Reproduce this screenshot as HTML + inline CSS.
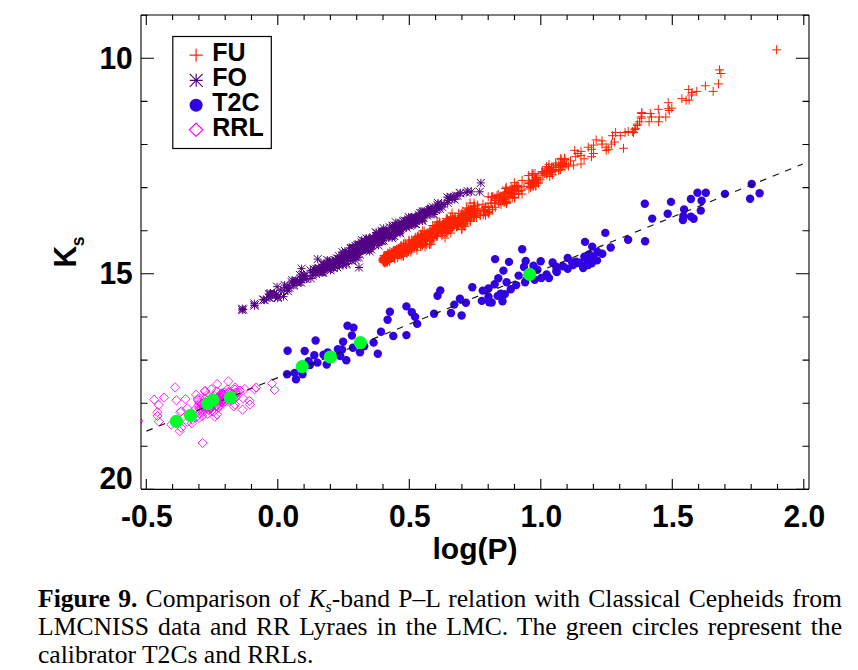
<!DOCTYPE html>
<html><head><meta charset="utf-8"><title>Figure 9</title>
<style>
html,body{margin:0;padding:0;background:#fff;}
body{width:858px;height:670px;position:relative;overflow:hidden;}
.cap{position:absolute;left:38px;top:585px;width:804px;font-family:"Liberation Serif","Times New Roman",serif;font-size:25.6px;line-height:28.2px;text-align:justify;color:#000;}
.cap b{font-weight:bold;}
</style></head><body>
<svg width="858" height="670" viewBox="0 0 858 670" style="position:absolute;left:0;top:0"><defs><clipPath id="pc"><rect x="141" y="15" width="668" height="474"/></clipPath></defs><g clip-path="url(#pc)"><path fill="none" stroke="#ff2200" stroke-width="1" d="M772.1 49.8H781.1M776.6 45.3V54.3M715.0 69.9H724.0M719.5 65.4V74.4M716.4 73.5H725.4M720.9 69.0V78.0M714.0 83.9H723.0M718.5 79.4V88.4M708.7 91.4H717.7M713.2 86.9V95.9M700.9 85.8H709.9M705.4 81.3V90.3M692.3 91.4H701.3M696.8 86.9V95.9M687.6 92.6H696.6M692.1 88.1V97.1M684.2 89.6H693.2M688.7 85.1V94.1M687.0 95.0H696.0M691.5 90.5V99.5M677.4 98.6H686.4M681.9 94.1V103.1M681.6 100.3H690.6M686.1 95.8V104.8M684.6 100.1H693.6M689.1 95.6V104.6M663.7 102.7H672.7M668.2 98.2V107.2M667.3 108.1H676.3M671.8 103.6V112.6M663.7 108.7H672.7M668.2 104.2V113.2M664.9 110.5H673.9M669.4 106.0V115.0M661.3 117.0H670.3M665.8 112.5V121.5M653.8 109.3H662.8M658.3 104.8V113.8M654.7 117.0H663.7M659.2 112.5V121.5M654.1 121.8H663.1M658.6 117.3V126.3M645.8 113.5H654.8M650.3 109.0V118.0M647.0 117.0H656.0M651.5 112.5V121.5M644.6 121.8H653.6M649.1 117.3V126.3M637.2 113.5H646.2M641.7 109.0V118.0M636.8 118.2H645.8M641.3 113.7V122.7M635.0 121.8H644.0M639.5 117.3V126.3M632.7 125.4H641.7M637.2 120.9V129.9M630.3 129.6H639.3M634.8 125.1V134.1M627.9 131.4H636.9M632.4 126.9V135.9M619.0 148.3H628.0M623.5 143.8V152.8M637.3 112.6H646.3M641.8 108.1V117.1M636.8 116.8H645.8M641.3 112.3V121.3M633.1 124.1H642.1M637.6 119.6V128.6M631.1 128.3H640.1M635.6 123.8V132.8M629.0 132.5H638.0M633.5 128.0V137.0M623.7 131.5H632.7M628.2 127.0V136.0M620.6 132.5H629.6M625.1 128.0V137.0M611.1 132.5H620.1M615.6 128.0V137.0M615.8 135.7H624.8M620.3 131.2V140.2M608.0 135.7H617.0M612.5 131.2V140.2M610.1 142.0H619.1M614.6 137.5V146.5M606.9 144.1H615.9M611.4 139.6V148.6M597.5 140.9H606.5M602.0 136.4V145.4M597.5 144.1H606.5M602.0 139.6V148.6M601.7 147.2H610.7M606.2 142.7V151.7M601.7 150.4H610.7M606.2 145.9V154.9M603.8 149.3H612.8M608.3 144.8V153.8M591.7 139.9H600.7M596.2 135.4V144.4M589.1 145.1H598.1M593.6 140.6V149.6M587.0 149.3H596.0M591.5 144.8V153.8M589.1 153.5H598.1M593.6 149.0V158.0M587.0 156.7H596.0M591.5 152.2V161.2M583.8 147.2H592.8M588.3 142.7V151.7M576.5 151.4H585.5M581.0 146.9V155.9M573.3 153.5H582.3M577.8 149.0V158.0M570.2 150.4H579.2M574.7 145.9V154.9M571.2 156.7H580.2M575.7 152.2V161.2M576.5 155.6H585.5M581.0 151.1V160.1M579.6 158.8H588.6M584.1 154.3V163.3M566.0 160.9H575.0M570.5 156.4V165.4M561.8 164.0H570.8M566.3 159.5V168.5M557.6 165.1H566.6M562.1 160.6V169.6M563.9 166.1H572.9M568.4 161.6V170.6M569.1 165.1H578.1M573.6 160.6V169.6M576.5 164.0H585.5M581.0 159.5V168.5M389.2 256.9H398.2M393.7 252.4V261.4M379.9 261.9H388.9M384.4 257.4V266.4M465.8 221.0H474.8M470.3 216.5V225.5M380.4 255.5H389.4M384.9 251.0V260.0M399.2 246.7H408.2M403.7 242.2V251.2M428.6 237.1H437.6M433.1 232.6V241.6M398.9 243.8H407.9M403.4 239.3V248.3M447.0 224.3H456.0M451.5 219.8V228.8M443.7 226.1H452.7M448.2 221.6V230.6M389.7 251.0H398.7M394.2 246.5V255.5M429.9 229.5H438.9M434.4 225.0V234.0M382.9 259.4H391.9M387.4 254.9V263.9M429.2 235.2H438.2M433.7 230.7V239.7M447.7 220.7H456.7M452.2 216.2V225.2M438.7 225.2H447.7M443.2 220.7V229.7M457.9 214.8H466.9M462.4 210.3V219.3M379.3 260.9H388.3M383.8 256.4V265.4M390.9 250.5H399.9M395.4 246.0V255.0M464.0 214.7H473.0M468.5 210.2V219.2M393.9 248.6H402.9M398.4 244.1V253.1M431.8 235.0H440.8M436.3 230.5V239.5M404.7 246.9H413.7M409.2 242.4V251.4M432.4 236.3H441.4M436.9 231.8V240.8M404.4 240.1H413.4M408.9 235.6V244.6M419.7 231.2H428.7M424.2 226.7V235.7M393.5 250.8H402.5M398.0 246.3V255.3M411.8 247.4H420.8M416.3 242.9V251.9M442.1 221.4H451.1M446.6 216.9V225.9M397.7 253.4H406.7M402.2 248.9V257.9M443.2 226.4H452.2M447.7 221.9V230.9M385.2 257.1H394.2M389.7 252.6V261.6M382.0 260.0H391.0M386.5 255.5V264.5M395.2 248.9H404.2M399.7 244.4V253.4M451.0 218.9H460.0M455.5 214.4V223.4M388.9 251.9H397.9M393.4 247.4V256.4M456.9 218.9H465.9M461.4 214.4V223.4M437.5 235.7H446.5M442.0 231.2V240.2M439.3 226.5H448.3M443.8 222.0V231.0M450.2 224.2H459.2M454.7 219.7V228.7M403.8 247.8H412.8M408.3 243.3V252.3M417.7 240.0H426.7M422.2 235.5V244.5M389.2 254.2H398.2M393.7 249.7V258.7M419.4 243.2H428.4M423.9 238.7V247.7M458.3 218.1H467.3M462.8 213.6V222.6M388.7 253.8H397.7M393.2 249.3V258.3M430.5 226.0H439.5M435.0 221.5V230.5M470.1 216.3H479.1M474.6 211.8V220.8M452.2 224.5H461.2M456.7 220.0V229.0M406.0 246.6H415.0M410.5 242.1V251.1M388.7 254.6H397.7M393.2 250.1V259.1M442.6 233.4H451.6M447.1 228.9V237.9M410.6 243.3H419.6M415.1 238.8V247.8M408.3 242.7H417.3M412.8 238.2V247.2M452.3 223.6H461.3M456.8 219.1V228.1M405.3 245.2H414.3M409.8 240.7V249.7M438.7 228.3H447.7M443.2 223.8V232.8M450.8 220.3H459.8M455.3 215.8V224.8M405.3 245.6H414.3M409.8 241.1V250.1M442.9 219.0H451.9M447.4 214.5V223.5M386.2 254.4H395.2M390.7 249.9V258.9M450.2 218.9H459.2M454.7 214.4V223.4M384.6 254.0H393.6M389.1 249.5V258.5M469.1 211.0H478.1M473.6 206.5V215.5M423.3 237.5H432.3M427.8 233.0V242.0M441.8 222.3H450.8M446.3 217.8V226.8M460.4 226.3H469.4M464.9 221.8V230.8M443.9 224.9H452.9M448.4 220.4V229.4M413.3 243.1H422.3M417.8 238.6V247.6M398.9 246.6H407.9M403.4 242.1V251.1M438.5 225.2H447.5M443.0 220.7V229.7M380.7 263.0H389.7M385.2 258.5V267.5M457.4 221.2H466.4M461.9 216.7V225.7M393.4 252.1H402.4M397.9 247.6V256.6M391.9 250.1H400.9M396.4 245.6V254.6M416.2 245.8H425.2M420.7 241.3V250.3M388.1 253.1H397.1M392.6 248.6V257.6M414.3 239.7H423.3M418.8 235.2V244.2M433.1 230.7H442.1M437.6 226.2V235.2M418.5 240.4H427.5M423.0 235.9V244.9M417.4 239.7H426.4M421.9 235.2V244.2M419.4 238.5H428.4M423.9 234.0V243.0M446.3 233.1H455.3M450.8 228.6V237.6M388.4 255.4H397.4M392.9 250.9V259.9M383.9 258.6H392.9M388.4 254.1V263.1M463.6 208.9H472.6M468.1 204.4V213.4M466.9 216.8H475.9M471.4 212.3V221.3M416.5 234.2H425.5M421.0 229.7V238.7M460.5 213.9H469.5M465.0 209.4V218.4M399.0 255.9H408.0M403.5 251.4V260.4M381.2 257.2H390.2M385.7 252.7V261.7M412.5 242.3H421.5M417.0 237.8V246.8M443.0 221.0H452.0M447.5 216.5V225.5M443.0 221.0H452.0M447.5 216.5V225.5M452.9 225.9H461.9M457.4 221.4V230.4M440.2 225.9H449.2M444.7 221.4V230.4M387.5 255.4H396.5M392.0 250.9V259.9M387.4 255.0H396.4M391.9 250.5V259.5M425.5 230.1H434.5M430.0 225.6V234.6M463.0 214.8H472.0M467.5 210.3V219.3M417.3 243.6H426.3M421.8 239.1V248.1M466.4 210.2H475.4M470.9 205.7V214.7M447.7 225.6H456.7M452.2 221.1V230.1M447.5 228.6H456.5M452.0 224.1V233.1M430.4 228.4H439.4M434.9 223.9V232.9M409.5 246.7H418.5M414.0 242.2V251.2M435.5 223.0H444.5M440.0 218.5V227.5M400.7 250.4H409.7M405.2 245.9V254.9M390.5 253.2H399.5M395.0 248.7V257.7M443.9 220.6H452.9M448.4 216.1V225.1M439.4 227.5H448.4M443.9 223.0V232.0M465.6 211.3H474.6M470.1 206.8V215.8M407.3 239.9H416.3M411.8 235.4V244.4M418.1 243.1H427.1M422.6 238.6V247.6M382.2 261.1H391.2M386.7 256.6V265.6M421.6 233.7H430.6M426.1 229.2V238.2M379.9 258.7H388.9M384.4 254.2V263.2M429.1 231.6H438.1M433.6 227.1V236.1M381.6 258.1H390.6M386.1 253.6V262.6M391.5 250.4H400.5M396.0 245.9V254.9M456.3 223.3H465.3M460.8 218.8V227.8M411.5 243.0H420.5M416.0 238.5V247.5M437.2 225.7H446.2M441.7 221.2V230.2M448.1 221.2H457.1M452.6 216.7V225.7M428.0 231.3H437.0M432.5 226.8V235.8M434.0 230.2H443.0M438.5 225.7V234.7M407.0 247.2H416.0M411.5 242.7V251.7M406.1 247.7H415.1M410.6 243.2V252.2M404.7 243.3H413.7M409.2 238.8V247.8M442.4 226.8H451.4M446.9 222.3V231.3M401.0 246.0H410.0M405.5 241.5V250.5M404.7 241.3H413.7M409.2 236.8V245.8M445.7 219.9H454.7M450.2 215.4V224.4M437.8 228.8H446.8M442.3 224.3V233.3M454.2 213.3H463.2M458.7 208.8V217.8M421.6 234.8H430.6M426.1 230.3V239.3M434.0 232.5H443.0M438.5 228.0V237.0M408.3 242.3H417.3M412.8 237.8V246.8M397.1 248.6H406.1M401.6 244.1V253.1M409.3 241.0H418.3M413.8 236.5V245.5M410.8 237.2H419.8M415.3 232.7V241.7M424.0 235.2H433.0M428.5 230.7V239.7M457.5 218.4H466.5M462.0 213.9V222.9M395.0 251.9H404.0M399.5 247.4V256.4M415.3 237.3H424.3M419.8 232.8V241.8M381.6 256.5H390.6M386.1 252.0V261.0M389.7 256.4H398.7M394.2 251.9V260.9M450.5 217.9H459.5M455.0 213.4V222.4M413.3 240.8H422.3M417.8 236.3V245.3M411.8 244.6H420.8M416.3 240.1V249.1M390.0 256.9H399.0M394.5 252.4V261.4M437.1 228.3H446.1M441.6 223.8V232.8M380.7 257.0H389.7M385.2 252.5V261.5M449.3 226.7H458.3M453.8 222.2V231.2M381.0 257.1H390.0M385.5 252.6V261.6M393.4 251.6H402.4M397.9 247.1V256.1M404.4 246.5H413.4M408.9 242.0V251.0M394.3 249.2H403.3M398.8 244.7V253.7M418.3 239.3H427.3M422.8 234.8V243.8M390.1 258.8H399.1M394.6 254.3V263.3M396.8 248.7H405.8M401.3 244.2V253.2M394.2 250.6H403.2M398.7 246.1V255.1M408.6 244.4H417.6M413.1 239.9V248.9M437.4 231.5H446.4M441.9 227.0V236.0M385.4 257.4H394.4M389.9 252.9V261.9M443.8 222.5H452.8M448.3 218.0V227.0M461.4 215.4H470.4M465.9 210.9V219.9M428.0 235.1H437.0M432.5 230.6V239.6M441.8 220.6H450.8M446.3 216.1V225.1M394.2 248.7H403.2M398.7 244.2V253.2M414.8 240.2H423.8M419.3 235.7V244.7M410.3 244.0H419.3M414.8 239.5V248.5M385.4 256.5H394.4M389.9 252.0V261.0M388.0 254.6H397.0M392.5 250.1V259.1M465.9 212.8H474.9M470.4 208.3V217.3M388.7 255.3H397.7M393.2 250.8V259.8M413.4 242.8H422.4M417.9 238.3V247.3M411.9 244.3H420.9M416.4 239.8V248.8M395.2 250.5H404.2M399.7 246.0V255.0M388.7 251.1H397.7M393.2 246.6V255.6M407.0 246.1H416.0M411.5 241.6V250.6M449.2 224.7H458.2M453.7 220.2V229.2M461.5 215.3H470.5M466.0 210.8V219.8M433.0 233.2H442.0M437.5 228.7V237.7M432.5 226.1H441.5M437.0 221.6V230.6M444.2 231.0H453.2M448.7 226.5V235.5M465.0 215.7H474.0M469.5 211.2V220.2M384.0 259.9H393.0M388.5 255.4V264.4M379.6 260.9H388.6M384.1 256.4V265.4M469.3 206.3H478.3M473.8 201.8V210.8M432.7 236.6H441.7M437.2 232.1V241.1M422.8 238.0H431.8M427.3 233.5V242.5M426.7 241.0H435.7M431.2 236.5V245.5M417.1 239.1H426.1M421.6 234.6V243.6M439.0 225.8H448.0M443.5 221.3V230.3M408.4 245.9H417.4M412.9 241.4V250.4M442.4 231.2H451.4M446.9 226.7V235.7M381.8 258.6H390.8M386.3 254.1V263.1M388.7 256.5H397.7M393.2 252.0V261.0M410.8 244.7H419.8M415.3 240.2V249.2M396.0 252.2H405.0M400.5 247.7V256.7M434.3 224.7H443.3M438.8 220.2V229.2M406.8 245.3H415.8M411.3 240.8V249.8M445.9 216.9H454.9M450.4 212.4V221.4M385.8 255.2H394.8M390.3 250.7V259.7M434.9 222.0H443.9M439.4 217.5V226.5M395.1 254.1H404.1M399.6 249.6V258.6M395.2 250.1H404.2M399.7 245.6V254.6M385.0 258.9H394.0M389.5 254.4V263.4M384.2 257.2H393.2M388.7 252.7V261.7M379.7 261.5H388.7M384.2 257.0V266.0M452.6 226.4H461.6M457.1 221.9V230.9M395.6 252.2H404.6M400.1 247.7V256.7M426.7 232.9H435.7M431.2 228.4V237.4M428.8 237.2H437.8M433.3 232.7V241.7M454.4 219.5H463.4M458.9 215.0V224.0M442.6 227.4H451.6M447.1 222.9V231.9M440.7 227.3H449.7M445.2 222.8V231.8M439.1 224.7H448.1M443.6 220.2V229.2M405.3 245.7H414.3M409.8 241.2V250.2M466.1 218.8H475.1M470.6 214.3V223.3M390.2 252.1H399.2M394.7 247.6V256.6M396.0 249.5H405.0M400.5 245.0V254.0M454.1 225.1H463.1M458.6 220.6V229.6M396.7 252.2H405.7M401.2 247.7V256.7M381.8 261.2H390.8M386.3 256.7V265.7M395.4 254.4H404.4M399.9 249.9V258.9M381.0 257.1H390.0M385.5 252.6V261.6M390.9 252.2H399.9M395.4 247.7V256.7M461.3 217.7H470.3M465.8 213.2V222.2M423.0 237.1H432.0M427.5 232.6V241.6M381.7 261.0H390.7M386.2 256.5V265.5M447.9 221.7H456.9M452.4 217.2V226.2M425.3 244.2H434.3M429.8 239.7V248.7M454.9 220.2H463.9M459.4 215.7V224.7M418.0 245.2H427.0M422.5 240.7V249.7M442.9 221.8H451.9M447.4 217.3V226.3M394.9 253.0H403.9M399.4 248.5V257.5M412.9 236.6H421.9M417.4 232.1V241.1M466.8 216.7H475.8M471.3 212.2V221.2M380.0 259.4H389.0M384.5 254.9V263.9M386.5 257.7H395.5M391.0 253.2V262.2M422.6 239.0H431.6M427.1 234.5V243.5M423.8 235.1H432.8M428.3 230.6V239.6M399.7 252.5H408.7M404.2 248.0V257.0M442.0 223.4H451.0M446.5 218.9V227.9M447.6 222.8H456.6M452.1 218.3V227.3M389.7 250.7H398.7M394.2 246.2V255.2M415.0 239.8H424.0M419.5 235.3V244.3M427.8 238.0H436.8M432.3 233.5V242.5M385.3 258.6H394.3M389.8 254.1V263.1M440.0 227.0H449.0M444.5 222.5V231.5M395.3 254.8H404.3M399.8 250.3V259.3M420.0 241.0H429.0M424.5 236.5V245.5M421.7 244.9H430.7M426.2 240.4V249.4M449.3 225.5H458.3M453.8 221.0V230.0M383.2 253.2H392.2M387.7 248.7V257.7M452.9 220.1H461.9M457.4 215.6V224.6M380.1 261.3H389.1M384.6 256.8V265.8M389.3 250.7H398.3M393.8 246.2V255.2M461.2 213.2H470.2M465.7 208.7V217.7M387.8 254.1H396.8M392.3 249.6V258.6M418.2 230.9H427.2M422.7 226.4V235.4M409.9 244.7H418.9M414.4 240.2V249.2M402.3 253.7H411.3M406.8 249.2V258.2M441.9 218.6H450.9M446.4 214.1V223.1M448.3 217.9H457.3M452.8 213.4V222.4M445.3 225.4H454.3M449.8 220.9V229.9M455.4 221.3H464.4M459.9 216.8V225.8M411.6 243.9H420.6M416.1 239.4V248.4M416.6 239.1H425.6M421.1 234.6V243.6M385.6 255.5H394.6M390.1 251.0V260.0M380.5 255.4H389.5M385.0 250.9V259.9M385.0 261.5H394.0M389.5 257.0V266.0M402.6 251.7H411.6M407.1 247.2V256.2M396.2 249.3H405.2M400.7 244.8V253.8M400.4 248.7H409.4M404.9 244.2V253.2M394.1 251.5H403.1M398.6 247.0V256.0M442.3 224.6H451.3M446.8 220.1V229.1M457.2 213.7H466.2M461.7 209.2V218.2M398.6 256.2H407.6M403.1 251.7V260.7M393.9 251.7H402.9M398.4 247.2V256.2M409.9 246.2H418.9M414.4 241.7V250.7M462.9 214.8H471.9M467.4 210.3V219.3M437.7 230.1H446.7M442.2 225.6V234.6M385.1 260.7H394.1M389.6 256.2V265.2M435.9 230.3H444.9M440.4 225.8V234.8M459.4 224.4H468.4M463.9 219.9V228.9M382.7 256.7H391.7M387.2 252.2V261.2M463.1 218.6H472.1M467.6 214.1V223.1M460.8 223.2H469.8M465.3 218.7V227.7M381.2 260.9H390.2M385.7 256.4V265.4M411.9 240.5H420.9M416.4 236.0V245.0M440.4 224.2H449.4M444.9 219.7V228.7M470.2 210.1H479.2M474.7 205.6V214.6M448.8 220.2H457.8M453.3 215.7V224.7M445.5 226.4H454.5M450.0 221.9V230.9M469.5 211.3H478.5M474.0 206.8V215.8M411.4 240.5H420.4M415.9 236.0V245.0M464.1 209.5H473.1M468.6 205.0V214.0M463.4 212.5H472.4M467.9 208.0V217.0M404.2 246.7H413.2M408.7 242.2V251.2M413.1 244.6H422.1M417.6 240.1V249.1M405.2 247.4H414.2M409.7 242.9V251.9M385.6 258.2H394.6M390.1 253.7V262.7M442.2 232.4H451.2M446.7 227.9V236.9M433.4 232.9H442.4M437.9 228.4V237.4M392.1 249.7H401.1M396.6 245.2V254.2M395.9 250.6H404.9M400.4 246.1V255.1M443.0 220.0H452.0M447.5 215.5V224.5M399.7 249.6H408.7M404.2 245.1V254.1M388.9 250.9H397.9M393.4 246.4V255.4M436.1 229.6H445.1M440.6 225.1V234.1M397.4 250.7H406.4M401.9 246.2V255.2M379.6 261.2H388.6M384.1 256.7V265.7M423.6 236.4H432.6M428.1 231.9V240.9M401.8 245.2H410.8M406.3 240.7V249.7M386.6 254.2H395.6M391.1 249.7V258.7M382.0 255.9H391.0M386.5 251.4V260.4M390.0 254.3H399.0M394.5 249.8V258.8M389.9 252.2H398.9M394.4 247.7V256.7M396.6 245.3H405.6M401.1 240.8V249.8M469.4 210.4H478.4M473.9 205.9V214.9M380.0 259.3H389.0M384.5 254.8V263.8M426.0 233.5H435.0M430.5 229.0V238.0M400.8 250.3H409.8M405.3 245.8V254.8M378.6 258.3H387.6M383.1 253.8V262.8M420.8 235.9H429.8M425.3 231.4V240.4M390.0 252.5H399.0M394.5 248.0V257.0M381.4 259.5H390.4M385.9 255.0V264.0M461.9 214.1H470.9M466.4 209.6V218.6M390.2 252.9H399.2M394.7 248.4V257.4M378.7 262.2H387.7M383.2 257.7V266.7M458.5 217.7H467.5M463.0 213.2V222.2M382.7 261.2H391.7M387.2 256.7V265.7M379.4 255.9H388.4M383.9 251.4V260.4M379.3 260.1H388.3M383.8 255.6V264.6M429.3 238.6H438.3M433.8 234.1V243.1M386.7 258.1H395.7M391.2 253.6V262.6M400.7 251.2H409.7M405.2 246.7V255.7M382.3 260.3H391.3M386.8 255.8V264.8M433.8 231.7H442.8M438.3 227.2V236.2M427.7 230.9H436.7M432.2 226.4V235.4M394.5 253.2H403.5M399.0 248.7V257.7M464.8 212.7H473.8M469.3 208.2V217.2M430.1 232.1H439.1M434.6 227.6V236.6M378.9 260.0H387.9M383.4 255.5V264.5M381.2 259.0H390.2M385.7 254.5V263.5M435.6 226.5H444.6M440.1 222.0V231.0M445.8 227.8H454.8M450.3 223.3V232.3M388.2 255.8H397.2M392.7 251.3V260.3M453.1 226.1H462.1M457.6 221.6V230.6M393.2 257.8H402.2M397.7 253.3V262.3M406.7 247.9H415.7M411.2 243.4V252.4M416.4 240.8H425.4M420.9 236.3V245.3M410.4 239.2H419.4M414.9 234.7V243.7M437.7 228.9H446.7M442.2 224.4V233.4M455.1 220.7H464.1M459.6 216.2V225.2M399.1 250.3H408.1M403.6 245.8V254.8M463.3 215.7H472.3M467.8 211.2V220.2M382.9 256.9H391.9M387.4 252.4V261.4M469.4 216.4H478.4M473.9 211.9V220.9M380.6 259.8H389.6M385.1 255.3V264.3M416.3 244.2H425.3M420.8 239.7V248.7M464.7 211.5H473.7M469.2 207.0V216.0M384.7 258.0H393.7M389.2 253.5V262.5M407.1 249.1H416.1M411.6 244.6V253.6M428.3 238.6H437.3M432.8 234.1V243.1M423.4 232.5H432.4M427.9 228.0V237.0M449.3 222.5H458.3M453.8 218.0V227.0M436.2 228.5H445.2M440.7 224.0V233.0M413.1 246.3H422.1M417.6 241.8V250.8M419.7 240.2H428.7M424.2 235.7V244.7M409.1 242.2H418.1M413.6 237.7V246.7M380.7 259.3H389.7M385.2 254.8V263.8M379.0 259.1H388.0M383.5 254.6V263.6M404.8 246.7H413.8M409.3 242.2V251.2M397.4 249.3H406.4M401.9 244.8V253.8M387.9 256.0H396.9M392.4 251.5V260.5M465.8 219.7H474.8M470.3 215.2V224.2M412.5 250.2H421.5M417.0 245.7V254.7M396.9 252.9H405.9M401.4 248.4V257.4M396.7 255.9H405.7M401.2 251.4V260.4M400.6 243.2H409.6M405.1 238.7V247.7M461.7 219.4H470.7M466.2 214.9V223.9M448.1 226.9H457.1M452.6 222.4V231.4M404.6 248.1H413.6M409.1 243.6V252.6M381.4 258.8H390.4M385.9 254.3V263.3M428.2 225.5H437.2M432.7 221.0V230.0M433.1 227.6H442.1M437.6 223.1V232.1M468.2 211.8H477.2M472.7 207.3V216.3M448.1 225.3H457.1M452.6 220.8V229.8M466.9 209.4H475.9M471.4 204.9V213.9M455.2 219.7H464.2M459.7 215.2V224.2M428.1 233.6H437.1M432.6 229.1V238.1M389.9 254.1H398.9M394.4 249.6V258.6M397.0 250.8H406.0M401.5 246.3V255.3M384.9 258.5H393.9M389.4 254.0V263.0M461.3 215.0H470.3M465.8 210.5V219.5M378.8 260.0H387.8M383.3 255.5V264.5M385.3 254.8H394.3M389.8 250.3V259.3M424.2 234.8H433.2M428.7 230.3V239.3M409.1 241.5H418.1M413.6 237.0V246.0M432.6 233.3H441.6M437.1 228.8V237.8M406.4 252.1H415.4M410.9 247.6V256.6M459.2 225.8H468.2M463.7 221.3V230.3M438.4 226.2H447.4M442.9 221.7V230.7M458.1 220.3H467.1M462.6 215.8V224.8M416.4 240.6H425.4M420.9 236.1V245.1M433.5 224.5H442.5M438.0 220.0V229.0M385.4 251.5H394.4M389.9 247.0V256.0M379.4 258.3H388.4M383.9 253.8V262.8M465.6 213.3H474.6M470.1 208.8V217.8M387.1 252.5H396.1M391.6 248.0V257.0M382.3 255.9H391.3M386.8 251.4V260.4M425.1 232.1H434.1M429.6 227.6V236.6M383.6 255.3H392.6M388.1 250.8V259.8M447.8 217.4H456.8M452.3 212.9V221.9M385.5 256.0H394.5M390.0 251.5V260.5M428.9 235.9H437.9M433.4 231.4V240.4M454.6 221.0H463.6M459.1 216.5V225.5M416.9 236.6H425.9M421.4 232.1V241.1M422.2 236.4H431.2M426.7 231.9V240.9M439.7 227.8H448.7M444.2 223.3V232.3M469.5 203.1H478.5M474.0 198.6V207.6M408.6 247.4H417.6M413.1 242.9V251.9M445.0 221.5H454.0M449.5 217.0V226.0M430.0 227.9H439.0M434.5 223.4V232.4M417.5 244.0H426.5M422.0 239.5V248.5M412.5 239.5H421.5M417.0 235.0V244.0M461.0 221.3H470.0M465.5 216.8V225.8M435.9 227.4H444.9M440.4 222.9V231.9M462.9 219.7H471.9M467.4 215.2V224.2M379.5 257.3H388.5M384.0 252.8V261.8M426.4 232.4H435.4M430.9 227.9V236.9M415.6 243.5H424.6M420.1 239.0V248.0M420.7 239.9H429.7M425.2 235.4V244.4M403.6 250.7H412.6M408.1 246.2V255.2M426.1 238.6H435.1M430.6 234.1V243.1M463.0 212.2H472.0M467.5 207.7V216.7M422.8 236.6H431.8M427.3 232.1V241.1M404.0 251.5H413.0M408.5 247.0V256.0M384.3 254.8H393.3M388.8 250.3V259.3M431.3 231.6H440.3M435.8 227.1V236.1M444.9 226.5H453.9M449.4 222.0V231.0M458.1 223.5H467.1M462.6 219.0V228.0M384.3 257.4H393.3M388.8 252.9V261.9M411.0 243.7H420.0M415.5 239.2V248.2M417.2 236.7H426.2M421.7 232.2V241.2M420.7 241.1H429.7M425.2 236.6V245.6M453.8 217.4H462.8M458.3 212.9V221.9M425.1 244.6H434.1M429.6 240.1V249.1M412.0 243.8H421.0M416.5 239.3V248.3M382.9 260.0H391.9M387.4 255.5V264.5M457.4 217.7H466.4M461.9 213.2V222.2M455.2 218.8H464.2M459.7 214.3V223.3M438.0 231.7H447.0M442.5 227.2V236.2M394.9 250.6H403.9M399.4 246.1V255.1M425.0 235.7H434.0M429.5 231.2V240.2M462.4 215.1H471.4M466.9 210.6V219.6M389.4 255.6H398.4M393.9 251.1V260.1M449.4 224.5H458.4M453.9 220.0V229.0M417.0 239.6H426.0M421.5 235.1V244.1M431.6 235.2H440.6M436.1 230.7V239.7M382.4 261.7H391.4M386.9 257.2V266.2M456.4 215.7H465.4M460.9 211.2V220.2M380.5 257.8H389.5M385.0 253.3V262.3M405.1 244.2H414.1M409.6 239.7V248.7M424.5 233.1H433.5M429.0 228.6V237.6M401.0 246.5H410.0M405.5 242.0V251.0M427.2 234.5H436.2M431.7 230.0V239.0M437.0 231.9H446.0M441.5 227.4V236.4M449.0 219.6H458.0M453.5 215.1V224.1M466.2 215.4H475.2M470.7 210.9V219.9M384.8 255.9H393.8M389.3 251.4V260.4M397.5 254.0H406.5M402.0 249.5V258.5M416.7 241.5H425.7M421.2 237.0V246.0M445.8 222.0H454.8M450.3 217.5V226.5M466.4 214.1H475.4M470.9 209.6V218.6M398.0 250.0H407.0M402.5 245.5V254.5M457.1 229.6H466.1M461.6 225.1V234.1M384.7 253.7H393.7M389.2 249.2V258.2M393.4 252.3H402.4M397.9 247.8V256.8M430.0 234.8H439.0M434.5 230.3V239.3M447.4 221.7H456.4M451.9 217.2V226.2M413.7 236.1H422.7M418.2 231.6V240.6M469.2 214.8H478.2M473.7 210.3V219.3M416.9 236.4H425.9M421.4 231.9V240.9M406.4 245.8H415.4M410.9 241.3V250.3M421.4 235.5H430.4M425.9 231.0V240.0M461.9 207.9H470.9M466.4 203.4V212.4M390.4 258.1H399.4M394.9 253.6V262.6M437.6 227.8H446.6M442.1 223.3V232.3M458.7 216.2H467.7M463.2 211.7V220.7M463.0 215.4H472.0M467.5 210.9V219.9M378.5 260.3H387.5M383.0 255.8V264.8M466.0 213.4H475.0M470.5 208.9V217.9M380.9 258.0H389.9M385.4 253.5V262.5M460.7 219.8H469.7M465.2 215.3V224.3M438.1 227.0H447.1M442.6 222.5V231.5M452.0 226.9H461.0M456.5 222.4V231.4M383.1 261.4H392.1M387.6 256.9V265.9M385.4 256.4H394.4M389.9 251.9V260.9M470.0 205.7H479.0M474.5 201.2V210.2M418.0 237.6H427.0M422.5 233.1V242.1M396.4 246.3H405.4M400.9 241.8V250.8M400.0 249.0H409.0M404.5 244.5V253.5M460.5 221.5H469.5M465.0 217.0V226.0M378.7 260.0H387.7M383.2 255.5V264.5M425.7 237.0H434.7M430.2 232.5V241.5M440.0 226.6H449.0M444.5 222.1V231.1M382.6 262.5H391.6M387.1 258.0V267.0M416.3 235.1H425.3M420.8 230.6V239.6M431.8 226.7H440.8M436.3 222.2V231.2M380.2 262.7H389.2M384.7 258.2V267.2M458.4 211.1H467.4M462.9 206.6V215.6M419.1 243.7H428.1M423.6 239.2V248.2M463.3 212.4H472.3M467.8 207.9V216.9M407.4 246.1H416.4M411.9 241.6V250.6M438.4 233.2H447.4M442.9 228.7V237.7M440.3 232.2H449.3M444.8 227.7V236.7M472.7 213.5H481.7M477.2 209.0V218.0M558.9 164.3H567.9M563.4 159.8V168.8M539.9 173.4H548.9M544.4 168.9V177.9M509.7 189.3H518.7M514.2 184.8V193.8M524.5 189.0H533.5M529.0 184.5V193.5M531.5 180.1H540.5M536.0 175.6V184.6M534.1 182.0H543.1M538.6 177.5V186.5M505.2 190.2H514.2M509.7 185.7V194.7M492.5 195.5H501.5M497.0 191.0V200.0M479.8 212.2H488.8M484.3 207.7V216.7M493.7 194.2H502.7M498.2 189.7V198.7M546.9 169.5H555.9M551.4 165.0V174.0M524.9 183.7H533.9M529.4 179.2V188.2M500.0 192.8H509.0M504.5 188.3V197.3M508.1 189.5H517.1M512.6 185.0V194.0M557.6 166.0H566.6M562.1 161.5V170.5M558.2 162.8H567.2M562.7 158.3V167.3M541.9 173.4H550.9M546.4 168.9V177.9M549.1 167.4H558.1M553.6 162.9V171.9M533.5 178.0H542.5M538.0 173.5V182.5M514.3 191.6H523.3M518.8 187.1V196.1M484.8 209.9H493.8M489.3 205.4V214.4M541.4 171.8H550.4M545.9 167.3V176.3M529.4 182.4H538.4M533.9 177.9V186.9M528.7 186.4H537.7M533.2 181.9V190.9M529.1 184.8H538.1M533.6 180.3V189.3M524.8 183.5H533.8M529.3 179.0V188.0M487.1 197.4H496.1M491.6 192.9V201.9M510.1 197.8H519.1M514.6 193.3V202.3M500.5 201.4H509.5M505.0 196.9V205.9M517.6 194.0H526.6M522.1 189.5V198.5M554.0 167.0H563.0M558.5 162.5V171.5M471.0 211.8H480.0M475.5 207.3V216.3M490.6 198.6H499.6M495.1 194.1V203.1M501.9 202.4H510.9M506.4 197.9V206.9M512.4 190.6H521.4M516.9 186.1V195.1M532.2 179.7H541.2M536.7 175.2V184.2M530.6 179.5H539.6M535.1 175.0V184.0M530.5 173.5H539.5M535.0 169.0V178.0M523.8 180.9H532.8M528.3 176.4V185.4M519.5 186.4H528.5M524.0 181.9V190.9M513.4 185.6H522.4M517.9 181.1V190.1M502.5 201.8H511.5M507.0 197.3V206.3M528.6 181.9H537.6M533.1 177.4V186.4M499.5 202.8H508.5M504.0 198.3V207.3M525.0 182.8H534.0M529.5 178.3V187.3M551.1 163.0H560.1M555.6 158.5V167.5M500.2 199.2H509.2M504.7 194.7V203.7M496.1 200.6H505.1M500.6 196.1V205.1M534.0 183.2H543.0M538.5 178.7V187.7M500.3 194.9H509.3M504.8 190.4V199.4M479.0 211.2H488.0M483.5 206.7V215.7M507.0 194.0H516.0M511.5 189.5V198.5M544.4 167.8H553.4M548.9 163.3V172.3M478.4 204.2H487.4M482.9 199.7V208.7M544.2 167.9H553.2M548.7 163.4V172.4M524.2 175.5H533.2M528.7 171.0V180.0M560.0 158.3H569.0M564.5 153.8V162.8M527.4 183.1H536.4M531.9 178.6V187.6M501.1 188.5H510.1M505.6 184.0V193.0M554.4 170.4H563.4M558.9 165.9V174.9M503.4 192.7H512.4M507.9 188.2V197.2M532.4 177.5H541.4M536.9 173.0V182.0M542.1 168.8H551.1M546.6 164.3V173.3M528.8 181.9H537.8M533.3 177.4V186.4M510.1 186.2H519.1M514.6 181.7V190.7M504.2 196.4H513.2M508.7 191.9V200.9M483.7 207.5H492.7M488.2 203.0V212.0M509.9 182.7H518.9M514.4 178.2V187.2M542.4 175.0H551.4M546.9 170.5V179.5M556.2 158.4H565.2M560.7 153.9V162.9M527.7 184.4H536.7M532.2 179.9V188.9M544.5 164.4H553.5M549.0 159.9V168.9M537.2 172.0H546.2M541.7 167.5V176.5M545.2 176.5H554.2M549.7 172.0V181.0M530.1 180.6H539.1M534.6 176.1V185.1M497.9 200.0H506.9M502.4 195.5V204.5M480.4 209.7H489.4M484.9 205.2V214.2M547.3 167.6H556.3M551.8 163.1V172.1M530.8 186.0H539.8M535.3 181.5V190.5M486.4 203.1H495.4M490.9 198.6V207.6M474.4 208.8H483.4M478.9 204.3V213.3M556.7 159.7H565.7M561.2 155.2V164.2M538.2 171.9H547.2M542.7 167.4V176.4M514.4 187.9H523.4M518.9 183.4V192.4M507.8 197.7H516.8M512.3 193.2V202.2M514.1 193.8H523.1M518.6 189.3V198.3M495.0 197.1H504.0M499.5 192.6V201.6M560.4 159.5H569.4M564.9 155.0V164.0M487.5 196.6H496.5M492.0 192.1V201.1M478.8 214.8H487.8M483.3 210.3V219.3M547.4 171.6H556.4M551.9 167.1V176.1M506.6 187.3H515.6M511.1 182.8V191.8M475.7 215.6H484.7M480.2 211.1V220.1M499.0 198.7H508.0M503.5 194.2V203.2M554.2 169.8H563.2M558.7 165.3V174.3M479.5 210.5H488.5M484.0 206.0V215.0M480.8 207.5H489.8M485.3 203.0V212.0M556.1 164.1H565.1M560.6 159.6V168.6M483.7 196.7H492.7M488.2 192.2V201.2M528.1 175.3H537.1M532.6 170.8V179.8M466.6 209.3H475.6M471.1 204.8V213.8M490.1 203.3H499.1M494.6 198.8V207.8M512.4 185.8H521.4M516.9 181.3V190.3M509.4 194.4H518.4M513.9 189.9V198.9M560.5 166.9H569.5M565.0 162.4V171.4M472.1 217.5H481.1M476.6 213.0V222.0M488.0 209.3H497.0M492.5 204.8V213.8M484.2 211.6H493.2M488.7 207.1V216.1M547.4 171.4H556.4M551.9 166.9V175.9M495.8 198.7H504.8M500.3 194.2V203.2M507.8 188.8H516.8M512.3 184.3V193.3M506.0 193.9H515.0M510.5 189.4V198.4M472.8 210.8H481.8M477.3 206.3V215.3M511.5 186.7H520.5M516.0 182.2V191.2M527.5 173.6H536.5M532.0 169.1V178.1M475.6 215.1H484.6M480.1 210.6V219.6M495.2 201.0H504.2M499.7 196.5V205.5M538.0 171.8H547.0M542.5 167.3V176.3M531.1 177.5H540.1M535.6 173.0V182.0M494.1 202.6H503.1M498.6 198.1V207.1M554.2 165.1H563.2M558.7 160.6V169.6M499.0 197.8H508.0M503.5 193.3V202.3M526.3 186.2H535.3M530.8 181.7V190.7M498.2 200.8H507.2M502.7 196.3V205.3M465.8 213.4H474.8M470.3 208.9V217.9M547.2 167.7H556.2M551.7 163.2V172.2M500.6 193.8H509.6M505.1 189.3V198.3M529.0 183.6H538.0M533.5 179.1V188.1M504.0 192.9H513.0M508.5 188.4V197.4M531.5 185.8H540.5M536.0 181.3V190.3M483.6 213.0H492.6M488.1 208.5V217.5M510.3 197.2H519.3M514.8 192.7V201.7M516.8 190.2H525.8M521.3 185.7V194.7M488.2 196.6H497.2M492.7 192.1V201.1M483.8 212.4H492.8M488.3 207.9V216.9M505.3 196.7H514.3M509.8 192.2V201.2M500.3 192.8H509.3M504.8 188.3V197.3M467.6 209.1H476.6M472.1 204.6V213.6M543.0 170.8H552.0M547.5 166.3V175.3M507.6 192.6H516.6M512.1 188.1V197.1M517.6 180.4H526.6M522.1 175.9V184.9M547.9 174.8H556.9M552.4 170.3V179.3M496.4 196.2H505.4M500.9 191.7V200.7M550.7 171.1H559.7M555.2 166.6V175.6M528.6 173.9H537.6M533.1 169.4V178.4M542.1 166.6H551.1M546.6 162.1V171.1M546.4 172.7H555.4M550.9 168.2V177.2M490.8 207.3H499.8M495.3 202.8V211.8M497.7 198.0H506.7M502.2 193.5V202.5M545.3 171.2H554.3M549.8 166.7V175.7M481.3 206.5H490.3M485.8 202.0V211.0M510.0 197.8H519.0M514.5 193.3V202.3M555.9 169.5H564.9M560.4 165.0V174.0M535.6 179.8H544.6M540.1 175.3V184.3M491.5 200.5H500.5M496.0 196.0V205.0M545.5 170.2H554.5M550.0 165.7V174.7M473.1 205.0H482.1M477.6 200.5V209.5M496.5 204.7H505.5M501.0 200.2V209.2M466.0 221.3H475.0M470.5 216.8V225.8M551.6 165.4H560.6M556.1 160.9V169.9M525.9 187.4H534.9M530.4 182.9V191.9M486.9 203.0H495.9M491.4 198.5V207.5M538.5 175.1H547.5M543.0 170.6V179.6M481.0 215.2H490.0M485.5 210.7V219.7M501.9 203.6H510.9M506.4 199.1V208.1M471.4 209.0H480.4M475.9 204.5V213.5M508.6 194.4H517.6M513.1 189.9V198.9M502.4 191.6H511.4M506.9 187.1V196.1M501.7 187.2H510.7M506.2 182.7V191.7M432.5 222.0H441.5M437.0 217.5V226.5M447.5 213.0H456.5M452.0 208.5V217.5M465.5 203.0H474.5M470.0 198.5V207.5M457.5 229.0H466.5M462.0 224.5V233.5M440.5 238.0H449.5M445.0 233.5V242.5M484.5 214.0H493.5M489.0 209.5V218.5M426.5 244.0H435.5M431.0 239.5V248.5M420.5 247.0H429.5M425.0 242.5V251.5"/><path fill="none" stroke="#530085" stroke-width="1" d="M266.6 293.1H274.6M270.6 289.1V297.1M266.6 289.1L274.6 297.1M266.6 297.1L274.6 289.1M476.8 182.9H484.8M480.8 178.9V186.9M476.8 178.9L484.8 186.9M476.8 186.9L484.8 178.9M475.7 191.8H483.7M479.7 187.8V195.8M475.7 187.8L483.7 195.8M475.7 195.8L483.7 187.8M467.3 191.8H475.3M471.3 187.8V195.8M467.3 187.8L475.3 195.8M467.3 195.8L475.3 187.8M238.3 308.6H246.3M242.3 304.6V312.6M238.3 304.6L246.3 312.6M238.3 312.6L246.3 304.6M239.2 309.5H247.2M243.2 305.5V313.5M239.2 305.5L247.2 313.5M239.2 313.5L247.2 305.5M238.2 310.1H246.2M242.2 306.1V314.1M238.2 306.1L246.2 314.1M238.2 314.1L246.2 306.1M250.5 305.6H258.5M254.5 301.6V309.6M250.5 301.6L258.5 309.6M250.5 309.6L258.5 301.6M250.6 305.1H258.6M254.6 301.1V309.1M250.6 301.1L258.6 309.1M250.6 309.1L258.6 301.1M250.4 303.6H258.4M254.4 299.6V307.6M250.4 299.6L258.4 307.6M250.4 307.6L258.4 299.6M260.6 300.2H268.6M264.6 296.2V304.2M260.6 296.2L268.6 304.2M260.6 304.2L268.6 296.2M259.3 299.8H267.3M263.3 295.8V303.8M259.3 295.8L267.3 303.8M259.3 303.8L267.3 295.8M259.7 299.5H267.7M263.7 295.5V303.5M259.7 295.5L267.7 303.5M259.7 303.5L267.7 295.5M288.3 280.2H296.3M292.3 276.2V284.2M288.3 276.2L296.3 284.2M288.3 284.2L296.3 276.2M292.7 282.8H300.7M296.7 278.8V286.8M292.7 278.8L300.7 286.8M292.7 286.8L300.7 278.8M287.7 282.1H295.7M291.7 278.1V286.1M287.7 278.1L295.7 286.1M287.7 286.1L295.7 278.1M265.3 293.9H273.3M269.3 289.9V297.9M265.3 289.9L273.3 297.9M265.3 297.9L273.3 289.9M273.9 297.1H281.9M277.9 293.1V301.1M273.9 293.1L281.9 301.1M273.9 301.1L281.9 293.1M270.4 293.4H278.4M274.4 289.4V297.4M270.4 289.4L278.4 297.4M270.4 297.4L278.4 289.4M276.7 290.3H284.7M280.7 286.3V294.3M276.7 286.3L284.7 294.3M276.7 294.3L284.7 286.3M283.7 288.5H291.7M287.7 284.5V292.5M283.7 284.5L291.7 292.5M283.7 292.5L291.7 284.5M273.1 286.7H281.1M277.1 282.7V290.7M273.1 282.7L281.1 290.7M273.1 290.7L281.1 282.7M291.2 280.6H299.2M295.2 276.6V284.6M291.2 276.6L299.2 284.6M291.2 284.6L299.2 276.6M266.5 294.4H274.5M270.5 290.4V298.4M266.5 290.4L274.5 298.4M266.5 298.4L274.5 290.4M285.3 287.8H293.3M289.3 283.8V291.8M285.3 283.8L293.3 291.8M285.3 291.8L293.3 283.8M280.1 290.1H288.1M284.1 286.1V294.1M280.1 286.1L288.1 294.1M280.1 294.1L288.1 286.1M283.2 285.8H291.2M287.2 281.8V289.8M283.2 281.8L291.2 289.8M283.2 289.8L291.2 281.8M273.8 298.1H281.8M277.8 294.1V302.1M273.8 294.1L281.8 302.1M273.8 302.1L281.8 294.1M292.9 280.9H300.9M296.9 276.9V284.9M292.9 276.9L300.9 284.9M292.9 284.9L300.9 276.9M265.4 294.8H273.4M269.4 290.8V298.8M265.4 290.8L273.4 298.8M265.4 298.8L273.4 290.8M271.5 295.2H279.5M275.5 291.2V299.2M271.5 291.2L279.5 299.2M271.5 299.2L279.5 291.2M300.2 276.4H308.2M304.2 272.4V280.4M300.2 272.4L308.2 280.4M300.2 280.4L308.2 272.4M283.9 291.1H291.9M287.9 287.1V295.1M283.9 287.1L291.9 295.1M283.9 295.1L291.9 287.1M266.0 297.9H274.0M270.0 293.9V301.9M266.0 293.9L274.0 301.9M266.0 301.9L274.0 293.9M298.6 277.2H306.6M302.6 273.2V281.2M298.6 273.2L306.6 281.2M298.6 281.2L306.6 273.2M279.5 296.6H287.5M283.5 292.6V300.6M279.5 292.6L287.5 300.6M279.5 300.6L287.5 292.6M270.2 293.4H278.2M274.2 289.4V297.4M270.2 289.4L278.2 297.4M270.2 297.4L278.2 289.4M292.9 282.3H300.9M296.9 278.3V286.3M292.9 278.3L300.9 286.3M292.9 286.3L300.9 278.3M289.0 285.5H297.0M293.0 281.5V289.5M289.0 281.5L297.0 289.5M289.0 289.5L297.0 281.5M272.5 294.4H280.5M276.5 290.4V298.4M272.5 290.4L280.5 298.4M272.5 298.4L280.5 290.4M290.0 285.2H298.0M294.0 281.2V289.2M290.0 281.2L298.0 289.2M290.0 289.2L298.0 281.2M280.6 285.1H288.6M284.6 281.1V289.1M280.6 281.1L288.6 289.1M280.6 289.1L288.6 281.1M264.9 297.7H272.9M268.9 293.7V301.7M264.9 293.7L272.9 301.7M264.9 301.7L272.9 293.7M357.8 240.1H365.8M361.8 236.1V244.1M357.8 236.1L365.8 244.1M357.8 244.1L365.8 236.1M405.0 221.3H413.0M409.0 217.3V225.3M405.0 217.3L413.0 225.3M405.0 225.3L413.0 217.3M349.6 251.4H357.6M353.6 247.4V255.4M349.6 247.4L357.6 255.4M349.6 255.4L357.6 247.4M358.4 249.0H366.4M362.4 245.0V253.0M358.4 245.0L366.4 253.0M358.4 253.0L366.4 245.0M314.6 268.3H322.6M318.6 264.3V272.3M314.6 264.3L322.6 272.3M314.6 272.3L322.6 264.3M380.2 236.4H388.2M384.2 232.4V240.4M380.2 232.4L388.2 240.4M380.2 240.4L388.2 232.4M352.2 248.8H360.2M356.2 244.8V252.8M352.2 244.8L360.2 252.8M352.2 252.8L360.2 244.8M333.0 261.0H341.0M337.0 257.0V265.0M333.0 257.0L341.0 265.0M333.0 265.0L341.0 257.0M417.6 212.9H425.6M421.6 208.9V216.9M417.6 208.9L425.6 216.9M417.6 216.9L425.6 208.9M432.0 210.0H440.0M436.0 206.0V214.0M432.0 206.0L440.0 214.0M432.0 214.0L440.0 206.0M349.0 255.5H357.0M353.0 251.5V259.5M349.0 251.5L357.0 259.5M349.0 259.5L357.0 251.5M306.4 270.3H314.4M310.4 266.3V274.3M306.4 266.3L314.4 274.3M306.4 274.3L314.4 266.3M313.8 270.3H321.8M317.8 266.3V274.3M313.8 266.3L321.8 274.3M313.8 274.3L321.8 266.3M354.3 247.9H362.3M358.3 243.9V251.9M354.3 243.9L362.3 251.9M354.3 251.9L362.3 243.9M372.2 232.5H380.2M376.2 228.5V236.5M372.2 228.5L380.2 236.5M372.2 236.5L380.2 228.5M388.8 226.1H396.8M392.8 222.1V230.1M388.8 222.1L396.8 230.1M388.8 230.1L396.8 222.1M340.2 255.9H348.2M344.2 251.9V259.9M340.2 251.9L348.2 259.9M340.2 259.9L348.2 251.9M319.4 264.4H327.4M323.4 260.4V268.4M319.4 260.4L327.4 268.4M319.4 268.4L327.4 260.4M325.7 265.1H333.7M329.7 261.1V269.1M325.7 261.1L333.7 269.1M325.7 269.1L333.7 261.1M392.8 231.1H400.8M396.8 227.1V235.1M392.8 227.1L400.8 235.1M392.8 235.1L400.8 227.1M326.2 262.0H334.2M330.2 258.0V266.0M326.2 258.0L334.2 266.0M326.2 266.0L334.2 258.0M329.3 264.8H337.3M333.3 260.8V268.8M329.3 260.8L337.3 268.8M329.3 268.8L337.3 260.8M420.0 213.1H428.0M424.0 209.1V217.1M420.0 209.1L428.0 217.1M420.0 217.1L428.0 209.1M335.1 261.3H343.1M339.1 257.3V265.3M335.1 257.3L343.1 265.3M335.1 265.3L343.1 257.3M411.4 220.1H419.4M415.4 216.1V224.1M411.4 216.1L419.4 224.1M411.4 224.1L419.4 216.1M412.2 219.0H420.2M416.2 215.0V223.0M412.2 215.0L420.2 223.0M412.2 223.0L420.2 215.0M419.6 217.9H427.6M423.6 213.9V221.9M419.6 213.9L427.6 221.9M419.6 221.9L427.6 213.9M363.8 249.8H371.8M367.8 245.8V253.8M363.8 245.8L371.8 253.8M363.8 253.8L371.8 245.8M374.9 239.0H382.9M378.9 235.0V243.0M374.9 235.0L382.9 243.0M374.9 243.0L382.9 235.0M329.3 262.2H337.3M333.3 258.2V266.2M329.3 258.2L337.3 266.2M329.3 266.2L337.3 258.2M400.7 220.5H408.7M404.7 216.5V224.5M400.7 216.5L408.7 224.5M400.7 224.5L408.7 216.5M395.3 228.9H403.3M399.3 224.9V232.9M395.3 224.9L403.3 232.9M395.3 232.9L403.3 224.9M379.7 228.2H387.7M383.7 224.2V232.2M379.7 224.2L387.7 232.2M379.7 232.2L387.7 224.2M363.7 247.1H371.7M367.7 243.1V251.1M363.7 243.1L371.7 251.1M363.7 251.1L371.7 243.1M336.0 260.0H344.0M340.0 256.0V264.0M336.0 256.0L344.0 264.0M336.0 264.0L344.0 256.0M396.2 225.0H404.2M400.2 221.0V229.0M396.2 221.0L404.2 229.0M396.2 229.0L404.2 221.0M404.6 216.9H412.6M408.6 212.9V220.9M404.6 212.9L412.6 220.9M404.6 220.9L412.6 212.9M397.1 226.0H405.1M401.1 222.0V230.0M397.1 222.0L405.1 230.0M397.1 230.0L405.1 222.0M401.9 221.2H409.9M405.9 217.2V225.2M401.9 217.2L409.9 225.2M401.9 225.2L409.9 217.2M342.0 264.5H350.0M346.0 260.5V268.5M342.0 260.5L350.0 268.5M342.0 268.5L350.0 260.5M333.1 258.6H341.1M337.1 254.6V262.6M333.1 254.6L341.1 262.6M333.1 262.6L341.1 254.6M356.4 245.0H364.4M360.4 241.0V249.0M356.4 241.0L364.4 249.0M356.4 249.0L364.4 241.0M418.0 220.2H426.0M422.0 216.2V224.2M418.0 216.2L426.0 224.2M418.0 224.2L426.0 216.2M338.4 252.1H346.4M342.4 248.1V256.1M338.4 248.1L346.4 256.1M338.4 256.1L346.4 248.1M417.2 218.9H425.2M421.2 214.9V222.9M417.2 214.9L425.2 222.9M417.2 222.9L425.2 214.9M402.5 227.6H410.5M406.5 223.6V231.6M402.5 223.6L410.5 231.6M402.5 231.6L410.5 223.6M331.6 261.4H339.6M335.6 257.4V265.4M331.6 257.4L339.6 265.4M331.6 265.4L339.6 257.4M309.9 269.4H317.9M313.9 265.4V273.4M309.9 265.4L317.9 273.4M309.9 273.4L317.9 265.4M409.2 218.2H417.2M413.2 214.2V222.2M409.2 214.2L417.2 222.2M409.2 222.2L417.2 214.2M463.7 191.1H471.7M467.7 187.1V195.1M463.7 187.1L471.7 195.1M463.7 195.1L471.7 187.1M341.1 259.7H349.1M345.1 255.7V263.7M341.1 255.7L349.1 263.7M341.1 263.7L349.1 255.7M443.7 202.9H451.7M447.7 198.9V206.9M443.7 198.9L451.7 206.9M443.7 206.9L451.7 198.9M316.9 271.0H324.9M320.9 267.0V275.0M316.9 267.0L324.9 275.0M316.9 275.0L324.9 267.0M425.8 210.1H433.8M429.8 206.1V214.1M425.8 206.1L433.8 214.1M425.8 214.1L433.8 206.1M335.5 263.5H343.5M339.5 259.5V267.5M335.5 259.5L343.5 267.5M335.5 267.5L343.5 259.5M373.9 235.3H381.9M377.9 231.3V239.3M373.9 231.3L381.9 239.3M373.9 239.3L381.9 231.3M352.1 248.3H360.1M356.1 244.3V252.3M352.1 244.3L360.1 252.3M352.1 252.3L360.1 244.3M380.4 236.1H388.4M384.4 232.1V240.1M380.4 232.1L388.4 240.1M380.4 240.1L388.4 232.1M416.3 218.4H424.3M420.3 214.4V222.4M416.3 214.4L424.3 222.4M416.3 222.4L424.3 214.4M302.3 279.0H310.3M306.3 275.0V283.0M302.3 275.0L310.3 283.0M302.3 283.0L310.3 275.0M405.7 223.6H413.7M409.7 219.6V227.6M405.7 219.6L413.7 227.6M405.7 227.6L413.7 219.6M411.3 217.5H419.3M415.3 213.5V221.5M411.3 213.5L419.3 221.5M411.3 221.5L419.3 213.5M328.1 267.2H336.1M332.1 263.2V271.2M328.1 263.2L336.1 271.2M328.1 271.2L336.1 263.2M323.3 260.0H331.3M327.3 256.0V264.0M323.3 256.0L331.3 264.0M323.3 264.0L331.3 256.0M411.1 217.1H419.1M415.1 213.1V221.1M411.1 213.1L419.1 221.1M411.1 221.1L419.1 213.1M355.1 244.3H363.1M359.1 240.3V248.3M355.1 240.3L363.1 248.3M355.1 248.3L363.1 240.3M312.3 268.9H320.3M316.3 264.9V272.9M312.3 264.9L320.3 272.9M312.3 272.9L320.3 264.9M352.9 251.9H360.9M356.9 247.9V255.9M352.9 247.9L360.9 255.9M352.9 255.9L360.9 247.9M399.6 221.5H407.6M403.6 217.5V225.5M399.6 217.5L407.6 225.5M399.6 225.5L407.6 217.5M323.2 268.5H331.2M327.2 264.5V272.5M323.2 264.5L331.2 272.5M323.2 272.5L331.2 264.5M364.9 238.6H372.9M368.9 234.6V242.6M364.9 234.6L372.9 242.6M364.9 242.6L372.9 234.6M445.5 198.7H453.5M449.5 194.7V202.7M445.5 194.7L453.5 202.7M445.5 202.7L453.5 194.7M378.4 237.5H386.4M382.4 233.5V241.5M378.4 233.5L386.4 241.5M378.4 241.5L386.4 233.5M427.3 209.4H435.3M431.3 205.4V213.4M427.3 205.4L435.3 213.4M427.3 213.4L435.3 205.4M410.3 217.4H418.3M414.3 213.4V221.4M410.3 213.4L418.3 221.4M410.3 221.4L418.3 213.4M415.1 214.9H423.1M419.1 210.9V218.9M415.1 210.9L423.1 218.9M415.1 218.9L423.1 210.9M352.8 257.4H360.8M356.8 253.4V261.4M352.8 253.4L360.8 261.4M352.8 261.4L360.8 253.4M381.3 235.6H389.3M385.3 231.6V239.6M381.3 231.6L389.3 239.6M381.3 239.6L389.3 231.6M462.2 192.6H470.2M466.2 188.6V196.6M462.2 188.6L470.2 196.6M462.2 196.6L470.2 188.6M333.7 263.5H341.7M337.7 259.5V267.5M333.7 259.5L341.7 267.5M333.7 267.5L341.7 259.5M318.4 272.5H326.4M322.4 268.5V276.5M318.4 268.5L326.4 276.5M318.4 276.5L326.4 268.5M418.7 213.6H426.7M422.7 209.6V217.6M418.7 209.6L426.7 217.6M418.7 217.6L426.7 209.6M341.6 257.2H349.6M345.6 253.2V261.2M341.6 253.2L349.6 261.2M341.6 261.2L349.6 253.2M368.6 238.6H376.6M372.6 234.6V242.6M368.6 234.6L376.6 242.6M368.6 242.6L376.6 234.6M391.9 222.3H399.9M395.9 218.3V226.3M391.9 218.3L399.9 226.3M391.9 226.3L399.9 218.3M349.8 250.7H357.8M353.8 246.7V254.7M349.8 246.7L357.8 254.7M349.8 254.7L357.8 246.7M356.5 249.7H364.5M360.5 245.7V253.7M356.5 245.7L364.5 253.7M356.5 253.7L364.5 245.7M316.4 271.9H324.4M320.4 267.9V275.9M316.4 267.9L324.4 275.9M316.4 275.9L324.4 267.9M360.4 244.1H368.4M364.4 240.1V248.1M360.4 240.1L368.4 248.1M360.4 248.1L368.4 240.1M310.6 269.7H318.6M314.6 265.7V273.7M310.6 265.7L318.6 273.7M310.6 273.7L318.6 265.7M383.1 230.8H391.1M387.1 226.8V234.8M383.1 226.8L391.1 234.8M383.1 234.8L391.1 226.8M370.7 244.8H378.7M374.7 240.8V248.8M370.7 240.8L378.7 248.8M370.7 248.8L378.7 240.8M411.4 223.6H419.4M415.4 219.6V227.6M411.4 219.6L419.4 227.6M411.4 227.6L419.4 219.6M355.6 245.2H363.6M359.6 241.2V249.2M355.6 241.2L363.6 249.2M355.6 249.2L363.6 241.2M410.9 220.3H418.9M414.9 216.3V224.3M410.9 216.3L418.9 224.3M410.9 224.3L418.9 216.3M415.2 217.0H423.2M419.2 213.0V221.0M415.2 213.0L423.2 221.0M415.2 221.0L423.2 213.0M418.2 217.7H426.2M422.2 213.7V221.7M418.2 213.7L426.2 221.7M418.2 221.7L426.2 213.7M398.1 227.9H406.1M402.1 223.9V231.9M398.1 223.9L406.1 231.9M398.1 231.9L406.1 223.9M384.7 234.3H392.7M388.7 230.3V238.3M384.7 230.3L392.7 238.3M384.7 238.3L392.7 230.3M377.5 240.9H385.5M381.5 236.9V244.9M377.5 236.9L385.5 244.9M377.5 244.9L385.5 236.9M346.5 260.2H354.5M350.5 256.2V264.2M346.5 256.2L354.5 264.2M346.5 264.2L354.5 256.2M363.5 248.4H371.5M367.5 244.4V252.4M363.5 244.4L371.5 252.4M363.5 252.4L371.5 244.4M364.2 243.6H372.2M368.2 239.6V247.6M364.2 239.6L372.2 247.6M364.2 247.6L372.2 239.6M453.4 195.7H461.4M457.4 191.7V199.7M453.4 191.7L461.4 199.7M453.4 199.7L461.4 191.7M314.4 269.1H322.4M318.4 265.1V273.1M314.4 265.1L322.4 273.1M314.4 273.1L322.4 265.1M354.7 257.3H362.7M358.7 253.3V261.3M354.7 253.3L362.7 261.3M354.7 261.3L362.7 253.3M376.7 241.1H384.7M380.7 237.1V245.1M376.7 237.1L384.7 245.1M376.7 245.1L384.7 237.1M325.9 266.1H333.9M329.9 262.1V270.1M325.9 262.1L333.9 270.1M325.9 270.1L333.9 262.1M396.2 233.4H404.2M400.2 229.4V237.4M396.2 229.4L404.2 237.4M396.2 237.4L404.2 229.4M338.8 260.3H346.8M342.8 256.3V264.3M338.8 256.3L346.8 264.3M338.8 264.3L346.8 256.3M380.7 231.9H388.7M384.7 227.9V235.9M380.7 227.9L388.7 235.9M380.7 235.9L388.7 227.9M367.2 241.9H375.2M371.2 237.9V245.9M367.2 237.9L375.2 245.9M367.2 245.9L375.2 237.9M393.1 230.8H401.1M397.1 226.8V234.8M393.1 226.8L401.1 234.8M393.1 234.8L401.1 226.8M349.6 247.5H357.6M353.6 243.5V251.5M349.6 243.5L357.6 251.5M349.6 251.5L357.6 243.5M430.2 209.6H438.2M434.2 205.6V213.6M430.2 205.6L438.2 213.6M430.2 213.6L438.2 205.6M410.7 223.6H418.7M414.7 219.6V227.6M410.7 219.6L418.7 227.6M410.7 227.6L418.7 219.6M346.1 257.1H354.1M350.1 253.1V261.1M346.1 253.1L354.1 261.1M346.1 261.1L354.1 253.1M357.9 247.6H365.9M361.9 243.6V251.6M357.9 243.6L365.9 251.6M357.9 251.6L365.9 243.6M364.4 244.3H372.4M368.4 240.3V248.3M364.4 240.3L372.4 248.3M364.4 248.3L372.4 240.3M414.8 217.6H422.8M418.8 213.6V221.6M414.8 213.6L422.8 221.6M414.8 221.6L422.8 213.6M361.5 244.9H369.5M365.5 240.9V248.9M361.5 240.9L369.5 248.9M361.5 248.9L369.5 240.9M382.3 231.5H390.3M386.3 227.5V235.5M382.3 227.5L390.3 235.5M382.3 235.5L390.3 227.5M346.9 253.6H354.9M350.9 249.6V257.6M346.9 249.6L354.9 257.6M346.9 257.6L354.9 249.6M344.2 254.8H352.2M348.2 250.8V258.8M344.2 250.8L352.2 258.8M344.2 258.8L352.2 250.8M342.3 263.4H350.3M346.3 259.4V267.4M342.3 259.4L350.3 267.4M342.3 267.4L350.3 259.4M423.8 213.5H431.8M427.8 209.5V217.5M423.8 209.5L431.8 217.5M423.8 217.5L431.8 209.5M365.7 251.5H373.7M369.7 247.5V255.5M365.7 247.5L373.7 255.5M365.7 255.5L373.7 247.5M381.6 234.8H389.6M385.6 230.8V238.8M381.6 230.8L389.6 238.8M381.6 238.8L389.6 230.8M380.7 236.7H388.7M384.7 232.7V240.7M380.7 232.7L388.7 240.7M380.7 240.7L388.7 232.7M427.2 210.5H435.2M431.2 206.5V214.5M427.2 206.5L435.2 214.5M427.2 214.5L435.2 206.5M456.2 192.9H464.2M460.2 188.9V196.9M456.2 188.9L464.2 196.9M456.2 196.9L464.2 188.9M397.2 223.3H405.2M401.2 219.3V227.3M397.2 219.3L405.2 227.3M397.2 227.3L405.2 219.3M444.3 200.6H452.3M448.3 196.6V204.6M444.3 196.6L452.3 204.6M444.3 204.6L452.3 196.6M365.6 247.0H373.6M369.6 243.0V251.0M365.6 243.0L373.6 251.0M365.6 251.0L373.6 243.0M420.7 211.1H428.7M424.7 207.1V215.1M420.7 207.1L428.7 215.1M420.7 215.1L428.7 207.1M353.5 245.2H361.5M357.5 241.2V249.2M353.5 241.2L361.5 249.2M353.5 249.2L361.5 241.2M373.8 238.9H381.8M377.8 234.9V242.9M373.8 234.9L381.8 242.9M373.8 242.9L381.8 234.9M353.3 247.8H361.3M357.3 243.8V251.8M353.3 243.8L361.3 251.8M353.3 251.8L361.3 243.8M351.8 248.4H359.8M355.8 244.4V252.4M351.8 244.4L359.8 252.4M351.8 252.4L359.8 244.4M390.2 235.9H398.2M394.2 231.9V239.9M390.2 231.9L398.2 239.9M390.2 239.9L398.2 231.9M363.1 243.5H371.1M367.1 239.5V247.5M363.1 239.5L371.1 247.5M363.1 247.5L371.1 239.5M388.7 227.9H396.7M392.7 223.9V231.9M388.7 223.9L396.7 231.9M388.7 231.9L396.7 223.9M361.8 242.0H369.8M365.8 238.0V246.0M361.8 238.0L369.8 246.0M361.8 246.0L369.8 238.0M397.3 227.0H405.3M401.3 223.0V231.0M397.3 223.0L405.3 231.0M397.3 231.0L405.3 223.0M361.2 247.4H369.2M365.2 243.4V251.4M361.2 243.4L369.2 251.4M361.2 251.4L369.2 243.4M357.6 242.4H365.6M361.6 238.4V246.4M357.6 238.4L365.6 246.4M357.6 246.4L365.6 238.4M393.0 230.0H401.0M397.0 226.0V234.0M393.0 226.0L401.0 234.0M393.0 234.0L401.0 226.0M361.5 249.4H369.5M365.5 245.4V253.4M361.5 245.4L369.5 253.4M361.5 253.4L369.5 245.4M419.2 212.0H427.2M423.2 208.0V216.0M419.2 208.0L427.2 216.0M419.2 216.0L427.2 208.0M335.2 265.6H343.2M339.2 261.6V269.6M335.2 261.6L343.2 269.6M335.2 269.6L343.2 261.6M427.6 208.6H435.6M431.6 204.6V212.6M427.6 204.6L435.6 212.6M427.6 212.6L435.6 204.6M318.4 267.2H326.4M322.4 263.2V271.2M318.4 263.2L326.4 271.2M318.4 271.2L326.4 263.2M347.1 248.0H355.1M351.1 244.0V252.0M347.1 244.0L355.1 252.0M347.1 252.0L355.1 244.0M369.3 237.1H377.3M373.3 233.1V241.1M369.3 233.1L377.3 241.1M369.3 241.1L377.3 233.1M317.2 272.5H325.2M321.2 268.5V276.5M317.2 268.5L325.2 276.5M317.2 276.5L325.2 268.5M339.3 257.6H347.3M343.3 253.6V261.6M339.3 253.6L347.3 261.6M339.3 261.6L347.3 253.6M394.4 231.0H402.4M398.4 227.0V235.0M394.4 227.0L402.4 235.0M394.4 235.0L402.4 227.0M353.8 250.2H361.8M357.8 246.2V254.2M353.8 246.2L361.8 254.2M353.8 254.2L361.8 246.2M333.3 267.3H341.3M337.3 263.3V271.3M333.3 263.3L341.3 271.3M333.3 271.3L341.3 263.3M395.3 223.9H403.3M399.3 219.9V227.9M395.3 219.9L403.3 227.9M395.3 227.9L403.3 219.9M368.2 244.9H376.2M372.2 240.9V248.9M368.2 240.9L376.2 248.9M368.2 248.9L376.2 240.9M388.1 238.2H396.1M392.1 234.2V242.2M388.1 234.2L396.1 242.2M388.1 242.2L396.1 234.2M425.6 210.1H433.6M429.6 206.1V214.1M425.6 206.1L433.6 214.1M425.6 214.1L433.6 206.1M364.3 239.8H372.3M368.3 235.8V243.8M364.3 235.8L372.3 243.8M364.3 243.8L372.3 235.8M378.5 237.3H386.5M382.5 233.3V241.3M378.5 233.3L386.5 241.3M378.5 241.3L386.5 233.3M372.1 232.7H380.1M376.1 228.7V236.7M372.1 228.7L380.1 236.7M372.1 236.7L380.1 228.7M339.8 258.0H347.8M343.8 254.0V262.0M339.8 254.0L347.8 262.0M339.8 262.0L347.8 254.0M315.2 268.2H323.2M319.2 264.2V272.2M315.2 264.2L323.2 272.2M315.2 272.2L323.2 264.2M352.6 251.9H360.6M356.6 247.9V255.9M352.6 247.9L360.6 255.9M352.6 255.9L360.6 247.9M361.1 242.9H369.1M365.1 238.9V246.9M361.1 238.9L369.1 246.9M361.1 246.9L369.1 238.9M401.1 222.8H409.1M405.1 218.8V226.8M401.1 218.8L409.1 226.8M401.1 226.8L409.1 218.8M347.0 248.7H355.0M351.0 244.7V252.7M347.0 244.7L355.0 252.7M347.0 252.7L355.0 244.7M335.0 262.5H343.0M339.0 258.5V266.5M335.0 258.5L343.0 266.5M335.0 266.5L343.0 258.5M300.1 278.7H308.1M304.1 274.7V282.7M300.1 274.7L308.1 282.7M300.1 282.7L308.1 274.7M398.1 224.9H406.1M402.1 220.9V228.9M398.1 220.9L406.1 228.9M398.1 228.9L406.1 220.9M378.1 233.0H386.1M382.1 229.0V237.0M378.1 229.0L386.1 237.0M378.1 237.0L386.1 229.0M423.0 215.6H431.0M427.0 211.6V219.6M423.0 211.6L431.0 219.6M423.0 219.6L431.0 211.6M377.9 230.8H385.9M381.9 226.8V234.8M377.9 226.8L385.9 234.8M377.9 234.8L385.9 226.8M324.1 269.0H332.1M328.1 265.0V273.0M324.1 265.0L332.1 273.0M324.1 273.0L332.1 265.0M440.0 204.4H448.0M444.0 200.4V208.4M440.0 200.4L448.0 208.4M440.0 208.4L448.0 200.4M420.4 212.6H428.4M424.4 208.6V216.6M420.4 208.6L428.4 216.6M420.4 216.6L428.4 208.6M360.0 246.7H368.0M364.0 242.7V250.7M360.0 242.7L368.0 250.7M360.0 250.7L368.0 242.7M385.8 227.3H393.8M389.8 223.3V231.3M385.8 223.3L393.8 231.3M385.8 231.3L393.8 223.3M407.5 225.2H415.5M411.5 221.2V229.2M407.5 221.2L415.5 229.2M407.5 229.2L415.5 221.2M319.8 264.3H327.8M323.8 260.3V268.3M319.8 260.3L327.8 268.3M319.8 268.3L327.8 260.3M382.7 232.1H390.7M386.7 228.1V236.1M382.7 228.1L390.7 236.1M382.7 236.1L390.7 228.1M402.0 224.6H410.0M406.0 220.6V228.6M402.0 220.6L410.0 228.6M402.0 228.6L410.0 220.6M348.0 260.8H356.0M352.0 256.8V264.8M348.0 256.8L356.0 264.8M348.0 264.8L356.0 256.8M373.8 236.6H381.8M377.8 232.6V240.6M373.8 232.6L381.8 240.6M373.8 240.6L381.8 232.6M372.2 236.4H380.2M376.2 232.4V240.4M372.2 232.4L380.2 240.4M372.2 240.4L380.2 232.4M336.0 261.0H344.0M340.0 257.0V265.0M336.0 257.0L344.0 265.0M336.0 265.0L344.0 257.0M344.7 253.3H352.7M348.7 249.3V257.3M344.7 249.3L352.7 257.3M344.7 257.3L352.7 249.3M438.1 206.8H446.1M442.1 202.8V210.8M438.1 202.8L446.1 210.8M438.1 210.8L446.1 202.8M401.7 226.0H409.7M405.7 222.0V230.0M401.7 222.0L409.7 230.0M401.7 230.0L409.7 222.0M388.3 236.7H396.3M392.3 232.7V240.7M388.3 232.7L396.3 240.7M388.3 240.7L396.3 232.7M367.2 249.5H375.2M371.2 245.5V253.5M367.2 245.5L375.2 253.5M367.2 253.5L375.2 245.5M328.0 263.0H336.0M332.0 259.0V267.0M328.0 259.0L336.0 267.0M328.0 267.0L336.0 259.0M310.1 272.5H318.1M314.1 268.5V276.5M310.1 268.5L318.1 276.5M310.1 276.5L318.1 268.5M389.8 235.9H397.8M393.8 231.9V239.9M389.8 231.9L397.8 239.9M389.8 239.9L397.8 231.9M340.1 257.4H348.1M344.1 253.4V261.4M340.1 253.4L348.1 261.4M340.1 261.4L348.1 253.4M352.9 247.9H360.9M356.9 243.9V251.9M352.9 243.9L360.9 251.9M352.9 251.9L360.9 243.9M318.0 269.5H326.0M322.0 265.5V273.5M318.0 265.5L326.0 273.5M318.0 273.5L326.0 265.5M295.3 281.9H303.3M299.3 277.9V285.9M295.3 277.9L303.3 285.9M295.3 285.9L303.3 277.9M368.9 239.6H376.9M372.9 235.6V243.6M368.9 235.6L376.9 243.6M368.9 243.6L376.9 235.6M325.5 261.1H333.5M329.5 257.1V265.1M325.5 257.1L333.5 265.1M325.5 265.1L333.5 257.1M446.6 196.9H454.6M450.6 192.9V200.9M446.6 192.9L454.6 200.9M446.6 200.9L454.6 192.9M433.4 208.6H441.4M437.4 204.6V212.6M433.4 204.6L441.4 212.6M433.4 212.6L441.4 204.6M352.7 246.5H360.7M356.7 242.5V250.5M352.7 242.5L360.7 250.5M352.7 250.5L360.7 242.5M411.8 223.9H419.8M415.8 219.9V227.9M411.8 219.9L419.8 227.9M411.8 227.9L419.8 219.9M328.8 262.4H336.8M332.8 258.4V266.4M328.8 258.4L336.8 266.4M328.8 266.4L336.8 258.4M412.2 219.6H420.2M416.2 215.6V223.6M412.2 215.6L420.2 223.6M412.2 223.6L420.2 215.6M452.0 195.8H460.0M456.0 191.8V199.8M452.0 191.8L460.0 199.8M452.0 199.8L460.0 191.8M390.8 225.6H398.8M394.8 221.6V229.6M390.8 221.6L398.8 229.6M390.8 229.6L398.8 221.6M456.0 193.3H464.0M460.0 189.3V197.3M456.0 189.3L464.0 197.3M456.0 197.3L464.0 189.3M362.7 244.7H370.7M366.7 240.7V248.7M362.7 240.7L370.7 248.7M362.7 248.7L370.7 240.7M448.5 198.3H456.5M452.5 194.3V202.3M448.5 194.3L456.5 202.3M448.5 202.3L456.5 194.3M367.5 244.8H375.5M371.5 240.8V248.8M367.5 240.8L375.5 248.8M367.5 248.8L375.5 240.8M434.6 206.4H442.6M438.6 202.4V210.4M434.6 202.4L442.6 210.4M434.6 210.4L442.6 202.4M411.7 220.4H419.7M415.7 216.4V224.4M411.7 216.4L419.7 224.4M411.7 224.4L419.7 216.4M355.6 249.4H363.6M359.6 245.4V253.4M355.6 245.4L363.6 253.4M355.6 253.4L363.6 245.4M369.2 238.5H377.2M373.2 234.5V242.5M369.2 234.5L377.2 242.5M369.2 242.5L377.2 234.5M419.0 211.3H427.0M423.0 207.3V215.3M419.0 207.3L427.0 215.3M419.0 215.3L427.0 207.3M417.2 218.5H425.2M421.2 214.5V222.5M417.2 214.5L425.2 222.5M417.2 222.5L425.2 214.5M364.1 241.8H372.1M368.1 237.8V245.8M364.1 237.8L372.1 245.8M364.1 245.8L372.1 237.8M358.5 249.2H366.5M362.5 245.2V253.2M358.5 245.2L366.5 253.2M358.5 253.2L366.5 245.2M399.2 226.6H407.2M403.2 222.6V230.6M399.2 222.6L407.2 230.6M399.2 230.6L407.2 222.6M409.7 218.3H417.7M413.7 214.3V222.3M409.7 214.3L417.7 222.3M409.7 222.3L417.7 214.3M377.9 231.5H385.9M381.9 227.5V235.5M377.9 227.5L385.9 235.5M377.9 235.5L385.9 227.5M400.1 225.7H408.1M404.1 221.7V229.7M400.1 221.7L408.1 229.7M400.1 229.7L408.1 221.7M350.5 256.0H358.5M354.5 252.0V260.0M350.5 252.0L358.5 260.0M350.5 260.0L358.5 252.0M397.0 226.9H405.0M401.0 222.9V230.9M397.0 222.9L405.0 230.9M397.0 230.9L405.0 222.9M306.9 278.5H314.9M310.9 274.5V282.5M306.9 274.5L314.9 282.5M306.9 282.5L314.9 274.5M346.2 254.4H354.2M350.2 250.4V258.4M346.2 250.4L354.2 258.4M346.2 258.4L354.2 250.4M357.5 249.3H365.5M361.5 245.3V253.3M357.5 245.3L365.5 253.3M357.5 253.3L365.5 245.3M395.1 232.3H403.1M399.1 228.3V236.3M395.1 228.3L403.1 236.3M395.1 236.3L403.1 228.3M326.5 270.4H334.5M330.5 266.4V274.4M326.5 266.4L334.5 274.4M326.5 274.4L334.5 266.4M328.9 264.5H336.9M332.9 260.5V268.5M328.9 260.5L336.9 268.5M328.9 268.5L336.9 260.5M416.7 218.2H424.7M420.7 214.2V222.2M416.7 214.2L424.7 222.2M416.7 222.2L424.7 214.2M328.6 261.1H336.6M332.6 257.1V265.1M328.6 257.1L336.6 265.1M328.6 265.1L336.6 257.1M348.6 252.7H356.6M352.6 248.7V256.7M348.6 248.7L356.6 256.7M348.6 256.7L356.6 248.7M416.2 212.9H424.2M420.2 208.9V216.9M416.2 208.9L424.2 216.9M416.2 216.9L424.2 208.9M387.6 234.1H395.6M391.6 230.1V238.1M387.6 230.1L395.6 238.1M387.6 238.1L395.6 230.1M391.4 231.5H399.4M395.4 227.5V235.5M391.4 227.5L399.4 235.5M391.4 235.5L399.4 227.5M431.8 209.3H439.8M435.8 205.3V213.3M431.8 205.3L439.8 213.3M431.8 213.3L439.8 205.3M404.0 224.8H412.0M408.0 220.8V228.8M404.0 220.8L412.0 228.8M404.0 228.8L412.0 220.8M443.3 197.3H451.3M447.3 193.3V201.3M443.3 193.3L451.3 201.3M443.3 201.3L451.3 193.3M421.8 212.8H429.8M425.8 208.8V216.8M421.8 208.8L429.8 216.8M421.8 216.8L429.8 208.8M356.2 245.3H364.2M360.2 241.3V249.3M356.2 241.3L364.2 249.3M356.2 249.3L364.2 241.3M352.0 248.6H360.0M356.0 244.6V252.6M352.0 244.6L360.0 252.6M352.0 252.6L360.0 244.6M388.8 225.9H396.8M392.8 221.9V229.9M388.8 221.9L396.8 229.9M388.8 229.9L396.8 221.9M428.1 210.7H436.1M432.1 206.7V214.7M428.1 206.7L436.1 214.7M428.1 214.7L436.1 206.7M357.6 245.5H365.6M361.6 241.5V249.5M357.6 241.5L365.6 249.5M357.6 249.5L365.6 241.5M334.9 256.1H342.9M338.9 252.1V260.1M334.9 252.1L342.9 260.1M334.9 260.1L342.9 252.1M345.1 254.7H353.1M349.1 250.7V258.7M345.1 250.7L353.1 258.7M345.1 258.7L353.1 250.7M360.6 241.3H368.6M364.6 237.3V245.3M360.6 237.3L368.6 245.3M360.6 245.3L368.6 237.3M356.8 245.2H364.8M360.8 241.2V249.2M356.8 241.2L364.8 249.2M356.8 249.2L364.8 241.2M374.7 245.5H382.7M378.7 241.5V249.5M374.7 241.5L382.7 249.5M374.7 249.5L382.7 241.5M394.3 227.2H402.3M398.3 223.2V231.2M394.3 223.2L402.3 231.2M394.3 231.2L402.3 223.2M299.8 274.9H307.8M303.8 270.9V278.9M299.8 270.9L307.8 278.9M299.8 278.9L307.8 270.9M297.2 282.7H305.2M301.2 278.7V286.7M297.2 278.7L305.2 286.7M297.2 286.7L305.2 278.7M335.9 259.9H343.9M339.9 255.9V263.9M335.9 255.9L343.9 263.9M335.9 263.9L343.9 255.9M341.9 256.8H349.9M345.9 252.8V260.8M341.9 252.8L349.9 260.8M341.9 260.8L349.9 252.8M426.9 209.1H434.9M430.9 205.1V213.1M426.9 205.1L434.9 213.1M426.9 213.1L434.9 205.1M353.7 247.2H361.7M357.7 243.2V251.2M353.7 243.2L361.7 251.2M353.7 251.2L361.7 243.2M404.7 219.4H412.7M408.7 215.4V223.4M404.7 215.4L412.7 223.4M404.7 223.4L412.7 215.4M320.4 263.8H328.4M324.4 259.8V267.8M320.4 259.8L328.4 267.8M320.4 267.8L328.4 259.8M308.8 275.6H316.8M312.8 271.6V279.6M308.8 271.6L316.8 279.6M308.8 279.6L316.8 271.6M326.2 268.3H334.2M330.2 264.3V272.3M326.2 264.3L334.2 272.3M326.2 272.3L334.2 264.3M378.5 232.8H386.5M382.5 228.8V236.8M378.5 228.8L386.5 236.8M378.5 236.8L386.5 228.8M356.4 247.8H364.4M360.4 243.8V251.8M356.4 243.8L364.4 251.8M356.4 251.8L364.4 243.8M339.0 265.0H347.0M343.0 261.0V269.0M339.0 261.0L347.0 269.0M339.0 269.0L347.0 261.0M384.0 235.0H392.0M388.0 231.0V239.0M384.0 231.0L392.0 239.0M384.0 239.0L392.0 231.0M343.7 256.0H351.7M347.7 252.0V260.0M343.7 252.0L351.7 260.0M343.7 260.0L351.7 252.0M404.9 223.1H412.9M408.9 219.1V227.1M404.9 219.1L412.9 227.1M404.9 227.1L412.9 219.1M385.5 235.5H393.5M389.5 231.5V239.5M385.5 231.5L393.5 239.5M385.5 239.5L393.5 231.5M430.1 214.5H438.1M434.1 210.5V218.5M430.1 210.5L438.1 218.5M430.1 218.5L438.1 210.5M409.2 223.3H417.2M413.2 219.3V227.3M409.2 219.3L417.2 227.3M409.2 227.3L417.2 219.3M308.9 273.9H316.9M312.9 269.9V277.9M308.9 269.9L316.9 277.9M308.9 277.9L316.9 269.9M333.9 258.6H341.9M337.9 254.6V262.6M333.9 254.6L341.9 262.6M333.9 262.6L341.9 254.6M408.6 218.1H416.6M412.6 214.1V222.1M408.6 214.1L416.6 222.1M408.6 222.1L416.6 214.1M362.5 238.5H370.5M366.5 234.5V242.5M362.5 234.5L370.5 242.5M362.5 242.5L370.5 234.5M361.3 246.3H369.3M365.3 242.3V250.3M361.3 242.3L369.3 250.3M361.3 250.3L369.3 242.3M338.4 255.7H346.4M342.4 251.7V259.7M338.4 251.7L346.4 259.7M338.4 259.7L346.4 251.7M447.2 196.9H455.2M451.2 192.9V200.9M447.2 192.9L455.2 200.9M447.2 200.9L455.2 192.9M323.9 263.7H331.9M327.9 259.7V267.7M323.9 259.7L331.9 267.7M323.9 267.7L331.9 259.7M418.4 221.0H426.4M422.4 217.0V225.0M418.4 217.0L426.4 225.0M418.4 225.0L426.4 217.0M382.0 232.3H390.0M386.0 228.3V236.3M382.0 228.3L390.0 236.3M382.0 236.3L390.0 228.3M350.0 255.9H358.0M354.0 251.9V259.9M350.0 251.9L358.0 259.9M350.0 259.9L358.0 251.9M329.7 268.2H337.7M333.7 264.2V272.2M329.7 264.2L337.7 272.2M329.7 272.2L337.7 264.2M427.5 210.6H435.5M431.5 206.6V214.6M427.5 206.6L435.5 214.6M427.5 214.6L435.5 206.6M395.1 230.4H403.1M399.1 226.4V234.4M395.1 226.4L403.1 234.4M395.1 234.4L403.1 226.4M433.3 204.8H441.3M437.3 200.8V208.8M433.3 200.8L441.3 208.8M433.3 208.8L441.3 200.8M417.6 214.7H425.6M421.6 210.7V218.7M417.6 210.7L425.6 218.7M417.6 218.7L425.6 210.7M335.8 260.1H343.8M339.8 256.1V264.1M335.8 256.1L343.8 264.1M335.8 264.1L343.8 256.1M359.0 243.7H367.0M363.0 239.7V247.7M359.0 239.7L367.0 247.7M359.0 247.7L367.0 239.7M300.9 275.7H308.9M304.9 271.7V279.7M300.9 271.7L308.9 279.7M300.9 279.7L308.9 271.7M429.0 214.3H437.0M433.0 210.3V218.3M429.0 210.3L437.0 218.3M429.0 218.3L437.0 210.3M395.3 231.8H403.3M399.3 227.8V235.8M395.3 227.8L403.3 235.8M395.3 235.8L403.3 227.8M346.3 253.8H354.3M350.3 249.8V257.8M346.3 249.8L354.3 257.8M346.3 257.8L354.3 249.8M379.9 232.1H387.9M383.9 228.1V236.1M379.9 228.1L387.9 236.1M379.9 236.1L387.9 228.1M326.4 265.1H334.4M330.4 261.1V269.1M326.4 261.1L334.4 269.1M326.4 269.1L334.4 261.1M354.5 245.8H362.5M358.5 241.8V249.8M354.5 241.8L362.5 249.8M354.5 249.8L362.5 241.8M384.2 232.7H392.2M388.2 228.7V236.7M384.2 228.7L392.2 236.7M384.2 236.7L392.2 228.7M410.9 219.3H418.9M414.9 215.3V223.3M410.9 215.3L418.9 223.3M410.9 223.3L418.9 215.3M355.4 249.6H363.4M359.4 245.6V253.6M355.4 245.6L363.4 253.6M355.4 253.6L363.4 245.6M360.8 243.9H368.8M364.8 239.9V247.9M360.8 239.9L368.8 247.9M360.8 247.9L368.8 239.9M351.1 254.2H359.1M355.1 250.2V258.2M351.1 250.2L359.1 258.2M351.1 258.2L359.1 250.2M395.2 232.2H403.2M399.2 228.2V236.2M395.2 228.2L403.2 236.2M395.2 236.2L403.2 228.2M296.9 279.5H304.9M300.9 275.5V283.5M296.9 275.5L304.9 283.5M296.9 283.5L304.9 275.5M350.6 252.4H358.6M354.6 248.4V256.4M350.6 248.4L358.6 256.4M350.6 256.4L358.6 248.4M349.0 250.8H357.0M353.0 246.8V254.8M349.0 246.8L357.0 254.8M349.0 254.8L357.0 246.8M400.9 225.3H408.9M404.9 221.3V229.3M400.9 221.3L408.9 229.3M400.9 229.3L408.9 221.3M319.0 272.8H327.0M323.0 268.8V276.8M319.0 268.8L327.0 276.8M319.0 276.8L327.0 268.8M409.9 218.2H417.9M413.9 214.2V222.2M409.9 214.2L417.9 222.2M409.9 222.2L417.9 214.2M402.9 221.3H410.9M406.9 217.3V225.3M402.9 217.3L410.9 225.3M402.9 225.3L410.9 217.3M415.3 216.4H423.3M419.3 212.4V220.4M415.3 212.4L423.3 220.4M415.3 220.4L423.3 212.4M334.3 259.2H342.3M338.3 255.2V263.2M334.3 255.2L342.3 263.2M334.3 263.2L342.3 255.2M335.8 260.4H343.8M339.8 256.4V264.4M335.8 256.4L343.8 264.4M335.8 264.4L343.8 256.4M375.4 238.6H383.4M379.4 234.6V242.6M375.4 234.6L383.4 242.6M375.4 242.6L383.4 234.6M344.6 255.3H352.6M348.6 251.3V259.3M344.6 251.3L352.6 259.3M344.6 259.3L352.6 251.3M378.3 241.0H386.3M382.3 237.0V245.0M378.3 237.0L386.3 245.0M378.3 245.0L386.3 237.0M379.5 234.8H387.5M383.5 230.8V238.8M379.5 230.8L387.5 238.8M379.5 238.8L387.5 230.8M360.4 246.0H368.4M364.4 242.0V250.0M360.4 242.0L368.4 250.0M360.4 250.0L368.4 242.0M344.9 252.7H352.9M348.9 248.7V256.7M344.9 248.7L352.9 256.7M344.9 256.7L352.9 248.7M329.2 267.6H337.2M333.2 263.6V271.6M329.2 263.6L337.2 271.6M329.2 271.6L337.2 263.6M367.3 246.2H375.3M371.3 242.2V250.2M367.3 242.2L375.3 250.2M367.3 250.2L375.3 242.2M357.5 248.3H365.5M361.5 244.3V252.3M357.5 244.3L365.5 252.3M357.5 252.3L365.5 244.3M360.8 247.9H368.8M364.8 243.9V251.9M360.8 243.9L368.8 251.9M360.8 251.9L368.8 243.9M402.7 224.5H410.7M406.7 220.5V228.5M402.7 220.5L410.7 228.5M402.7 228.5L410.7 220.5M339.7 254.8H347.7M343.7 250.8V258.8M339.7 250.8L347.7 258.8M339.7 258.8L347.7 250.8M437.7 204.2H445.7M441.7 200.2V208.2M437.7 200.2L445.7 208.2M437.7 208.2L445.7 200.2M355.8 254.3H363.8M359.8 250.3V258.3M355.8 250.3L363.8 258.3M355.8 258.3L363.8 250.3M413.7 219.3H421.7M417.7 215.3V223.3M413.7 215.3L421.7 223.3M413.7 223.3L421.7 215.3M351.2 259.9H359.2M355.2 255.9V263.9M351.2 255.9L359.2 263.9M351.2 263.9L359.2 255.9M384.5 235.5H392.5M388.5 231.5V239.5M384.5 231.5L392.5 239.5M384.5 239.5L392.5 231.5M360.8 241.2H368.8M364.8 237.2V245.2M360.8 237.2L368.8 245.2M360.8 245.2L368.8 237.2M311.9 273.8H319.9M315.9 269.8V277.8M311.9 269.8L319.9 277.8M311.9 277.8L319.9 269.8M384.5 232.7H392.5M388.5 228.7V236.7M384.5 228.7L392.5 236.7M384.5 236.7L392.5 228.7M318.8 264.6H326.8M322.8 260.6V268.6M318.8 260.6L326.8 268.6M318.8 268.6L326.8 260.6M354.2 244.6H362.2M358.2 240.6V248.6M354.2 240.6L362.2 248.6M354.2 248.6L362.2 240.6M405.8 225.7H413.8M409.8 221.7V229.7M405.8 221.7L413.8 229.7M405.8 229.7L413.8 221.7M404.9 220.7H412.9M408.9 216.7V224.7M404.9 216.7L412.9 224.7M404.9 224.7L412.9 216.7M331.4 260.0H339.4M335.4 256.0V264.0M331.4 256.0L339.4 264.0M331.4 264.0L339.4 256.0M360.6 249.9H368.6M364.6 245.9V253.9M360.6 245.9L368.6 253.9M360.6 253.9L368.6 245.9M393.7 230.6H401.7M397.7 226.6V234.6M393.7 226.6L401.7 234.6M393.7 234.6L401.7 226.6M377.0 240.0H385.0M381.0 236.0V244.0M377.0 236.0L385.0 244.0M377.0 244.0L385.0 236.0M428.8 207.1H436.8M432.8 203.1V211.1M428.8 203.1L436.8 211.1M428.8 211.1L436.8 203.1M348.8 247.7H356.8M352.8 243.7V251.7M348.8 243.7L356.8 251.7M348.8 251.7L356.8 243.7M436.0 208.9H444.0M440.0 204.9V212.9M436.0 204.9L444.0 212.9M436.0 212.9L444.0 204.9M399.6 221.4H407.6M403.6 217.4V225.4M399.6 217.4L407.6 225.4M399.6 225.4L407.6 217.4M375.3 237.7H383.3M379.3 233.7V241.7M375.3 233.7L383.3 241.7M375.3 241.7L383.3 233.7M371.4 239.9H379.4M375.4 235.9V243.9M371.4 235.9L379.4 243.9M371.4 243.9L379.4 235.9M389.8 229.2H397.8M393.8 225.2V233.2M389.8 225.2L397.8 233.2M389.8 233.2L397.8 225.2M403.9 223.9H411.9M407.9 219.9V227.9M403.9 219.9L411.9 227.9M403.9 227.9L411.9 219.9M355.7 248.6H363.7M359.7 244.6V252.6M355.7 244.6L363.7 252.6M355.7 252.6L363.7 244.6M349.5 255.3H357.5M353.5 251.3V259.3M349.5 251.3L357.5 259.3M349.5 259.3L357.5 251.3M356.6 249.6H364.6M360.6 245.6V253.6M356.6 245.6L364.6 253.6M356.6 253.6L364.6 245.6M351.5 245.9H359.5M355.5 241.9V249.9M351.5 241.9L359.5 249.9M351.5 249.9L359.5 241.9M406.1 218.7H414.1M410.1 214.7V222.7M406.1 214.7L414.1 222.7M406.1 222.7L414.1 214.7M396.5 228.5H404.5M400.5 224.5V232.5M396.5 224.5L404.5 232.5M396.5 232.5L404.5 224.5M298.4 277.0H306.4M302.4 273.0V281.0M298.4 273.0L306.4 281.0M298.4 281.0L306.4 273.0M346.4 251.1H354.4M350.4 247.1V255.1M346.4 247.1L354.4 255.1M346.4 255.1L354.4 247.1M318.4 271.3H326.4M322.4 267.3V275.3M318.4 267.3L326.4 275.3M318.4 275.3L326.4 267.3M357.9 249.2H365.9M361.9 245.2V253.2M357.9 245.2L365.9 253.2M357.9 253.2L365.9 245.2M349.9 253.2H357.9M353.9 249.2V257.2M349.9 249.2L357.9 257.2M349.9 257.2L357.9 249.2M336.5 259.3H344.5M340.5 255.3V263.3M336.5 255.3L344.5 263.3M336.5 263.3L344.5 255.3M392.4 229.4H400.4M396.4 225.4V233.4M392.4 225.4L400.4 233.4M392.4 233.4L400.4 225.4M348.8 248.8H356.8M352.8 244.8V252.8M348.8 244.8L356.8 252.8M348.8 252.8L356.8 244.8M375.0 239.9H383.0M379.0 235.9V243.9M375.0 235.9L383.0 243.9M375.0 243.9L383.0 235.9M357.1 245.5H365.1M361.1 241.5V249.5M357.1 241.5L365.1 249.5M357.1 249.5L365.1 241.5M390.8 229.1H398.8M394.8 225.1V233.1M390.8 225.1L398.8 233.1M390.8 233.1L398.8 225.1M382.1 236.2H390.1M386.1 232.2V240.2M382.1 232.2L390.1 240.2M382.1 240.2L390.1 232.2M373.2 237.1H381.2M377.2 233.1V241.1M373.2 233.1L381.2 241.1M373.2 241.1L381.2 233.1M426.2 210.5H434.2M430.2 206.5V214.5M426.2 206.5L434.2 214.5M426.2 214.5L434.2 206.5M335.3 259.2H343.3M339.3 255.2V263.2M335.3 255.2L343.3 263.2M335.3 263.2L343.3 255.2M375.0 236.6H383.0M379.0 232.6V240.6M375.0 232.6L383.0 240.6M375.0 240.6L383.0 232.6M365.8 238.7H373.8M369.8 234.7V242.7M365.8 234.7L373.8 242.7M365.8 242.7L373.8 234.7M358.5 250.3H366.5M362.5 246.3V254.3M358.5 246.3L366.5 254.3M358.5 254.3L366.5 246.3M450.7 199.6H458.7M454.7 195.6V203.6M450.7 195.6L458.7 203.6M450.7 203.6L458.7 195.6M379.4 240.5H387.4M383.4 236.5V244.5M379.4 236.5L387.4 244.5M379.4 244.5L387.4 236.5M297.6 268.6H305.6M301.6 264.6V272.6M297.6 264.6L305.6 272.6M297.6 272.6L305.6 264.6M313.7 259.1H321.7M317.7 255.1V263.1M313.7 255.1L321.7 263.1M313.7 263.1L321.7 255.1M355.0 267.5H363.0M359.0 263.5V271.5M355.0 263.5L363.0 271.5M355.0 271.5L363.0 263.5M341.0 251.0H349.0M345.0 247.0V255.0M341.0 247.0L349.0 255.0M341.0 255.0L349.0 247.0M296.0 275.0H304.0M300.0 271.0V279.0M296.0 271.0L304.0 279.0M296.0 279.0L304.0 271.0M434.0 203.0H442.0M438.0 199.0V207.0M434.0 199.0L442.0 207.0M434.0 207.0L442.0 199.0"/><g fill="#3000e0"><circle cx="287.6" cy="350.7" r="4.2"/><circle cx="304.7" cy="351" r="4.2"/><circle cx="315.6" cy="340.5" r="4.2"/><circle cx="314.3" cy="355.2" r="4.2"/><circle cx="308.6" cy="361.2" r="4.2"/><circle cx="310" cy="365" r="4.2"/><circle cx="317.4" cy="362.6" r="4.2"/><circle cx="323.5" cy="354.7" r="4.2"/><circle cx="327.7" cy="352.4" r="4.2"/><circle cx="326.7" cy="364.5" r="4.2"/><circle cx="287.1" cy="374.3" r="4.2"/><circle cx="294.6" cy="372.9" r="4.2"/><circle cx="296" cy="379.4" r="4.2"/><circle cx="302.5" cy="374.3" r="4.2"/><circle cx="337.9" cy="349.1" r="4.2"/><circle cx="342.1" cy="349.6" r="4.2"/><circle cx="343.1" cy="341.7" r="4.2"/><circle cx="340.3" cy="356.1" r="4.2"/><circle cx="346.3" cy="360.3" r="4.2"/><circle cx="351.9" cy="335.5" r="4.2"/><circle cx="352.9" cy="347.7" r="4.2"/><circle cx="347.5" cy="325.8" r="4.2"/><circle cx="353.5" cy="327.6" r="4.2"/><circle cx="364.2" cy="346.3" r="4.2"/><circle cx="360" cy="352.3" r="4.2"/><circle cx="373.6" cy="342.6" r="4.2"/><circle cx="377.8" cy="353.7" r="4.2"/><circle cx="381" cy="331.8" r="4.2"/><circle cx="387.6" cy="319.7" r="4.2"/><circle cx="389.9" cy="311.8" r="4.2"/><circle cx="393.3" cy="336" r="4.2"/><circle cx="406.4" cy="335.1" r="4.2"/><circle cx="406.4" cy="306.4" r="4.2"/><circle cx="411.8" cy="312.2" r="4.2"/><circle cx="415.1" cy="316.9" r="4.2"/><circle cx="417.2" cy="323.9" r="4.2"/><circle cx="434.1" cy="313.7" r="4.2"/><circle cx="440.3" cy="290.4" r="4.2"/><circle cx="437.5" cy="295.8" r="4.2"/><circle cx="451" cy="313" r="4.2"/><circle cx="454.3" cy="304.6" r="4.2"/><circle cx="459.9" cy="298.8" r="4.2"/><circle cx="465.9" cy="302.8" r="4.2"/><circle cx="461.6" cy="315.5" r="4.2"/><circle cx="472.3" cy="287.2" r="4.2"/><circle cx="482.7" cy="290.6" r="4.2"/><circle cx="481.8" cy="300.9" r="4.2"/><circle cx="488.5" cy="288.5" r="4.2"/><circle cx="488.5" cy="296.6" r="4.2"/><circle cx="489.3" cy="302.3" r="4.2"/><circle cx="495.1" cy="259.1" r="4.2"/><circle cx="509" cy="261.9" r="4.2"/><circle cx="522.2" cy="249.3" r="4.2"/><circle cx="503.4" cy="270.6" r="4.2"/><circle cx="498.3" cy="278.2" r="4.2"/><circle cx="494.7" cy="284.2" r="4.2"/><circle cx="491.7" cy="302.5" r="4.2"/><circle cx="502.5" cy="301.3" r="4.2"/><circle cx="497.7" cy="295.9" r="4.2"/><circle cx="504.9" cy="294.1" r="4.2"/><circle cx="500.7" cy="293.7" r="4.2"/><circle cx="506.6" cy="282.2" r="4.2"/><circle cx="510.8" cy="289.3" r="4.2"/><circle cx="516.2" cy="285.1" r="4.2"/><circle cx="518.6" cy="275.6" r="4.2"/><circle cx="525.1" cy="282.2" r="4.2"/><circle cx="525.7" cy="261" r="4.2"/><circle cx="524" cy="267" r="4.2"/><circle cx="533.5" cy="265.8" r="4.2"/><circle cx="534.7" cy="279.8" r="4.2"/><circle cx="540.7" cy="261.3" r="4.2"/><circle cx="541.3" cy="278" r="4.2"/><circle cx="546.6" cy="274.4" r="4.2"/><circle cx="549" cy="278" r="4.2"/><circle cx="552.6" cy="262.5" r="4.2"/><circle cx="556.2" cy="266.7" r="4.2"/><circle cx="556.8" cy="272.1" r="4.2"/><circle cx="537.4" cy="269.7" r="4.2"/><circle cx="605.3" cy="232.9" r="4.2"/><circle cx="585" cy="241.9" r="4.2"/><circle cx="610.7" cy="247.5" r="4.2"/><circle cx="592.2" cy="246.6" r="4.2"/><circle cx="602.3" cy="253.8" r="4.2"/><circle cx="597.5" cy="252" r="4.2"/><circle cx="597" cy="260.4" r="4.2"/><circle cx="591.6" cy="263.4" r="4.2"/><circle cx="589.2" cy="254.4" r="4.2"/><circle cx="584.4" cy="256.8" r="4.2"/><circle cx="583.2" cy="268.1" r="4.2"/><circle cx="579.6" cy="262.8" r="4.2"/><circle cx="573.1" cy="265.1" r="4.2"/><circle cx="567.7" cy="258" r="4.2"/><circle cx="567.7" cy="268.7" r="4.2"/><circle cx="562.9" cy="266.3" r="4.2"/><circle cx="556.3" cy="271.1" r="4.2"/><circle cx="576" cy="261.6" r="4.2"/><circle cx="588" cy="265.1" r="4.2"/><circle cx="590.1" cy="255.3" r="4.2"/><circle cx="587.7" cy="260.1" r="4.2"/><circle cx="593" cy="257.7" r="4.2"/><circle cx="576.9" cy="263" r="4.2"/><circle cx="572.2" cy="262.4" r="4.2"/><circle cx="582.9" cy="266" r="4.2"/><circle cx="628.1" cy="239.7" r="4.2"/><circle cx="645.1" cy="241.3" r="4.2"/><circle cx="644.8" cy="203.7" r="4.2"/><circle cx="652.2" cy="218.6" r="4.2"/><circle cx="667.7" cy="213.8" r="4.2"/><circle cx="671" cy="201.9" r="4.2"/><circle cx="684.1" cy="209.4" r="4.2"/><circle cx="683.4" cy="216" r="4.2"/><circle cx="682.9" cy="220.1" r="4.2"/><circle cx="690.9" cy="216.6" r="4.2"/><circle cx="693.6" cy="218.7" r="4.2"/><circle cx="690.9" cy="199" r="4.2"/><circle cx="697.5" cy="192.7" r="4.2"/><circle cx="705.8" cy="192.7" r="4.2"/><circle cx="701.6" cy="200.8" r="4.2"/><circle cx="700.8" cy="210.6" r="4.2"/><circle cx="724.9" cy="193.9" r="4.2"/><circle cx="751.7" cy="184" r="4.2"/><circle cx="759.6" cy="193.3" r="4.2"/><circle cx="750.1" cy="198.7" r="4.2"/></g><path fill="none" stroke="#ff00ff" stroke-width="0.85" d="M175.2 382.8L179.8 387.4L175.2 392.0L170.6 387.4ZM154.1 395.0L158.7 399.6L154.1 404.2L149.5 399.6ZM164.0 393.0L168.6 397.6L164.0 402.2L159.4 397.6ZM176.4 395.7L181.0 400.3L176.4 404.9L171.8 400.3ZM185.4 394.6L190.0 399.2L185.4 403.8L180.8 399.2ZM158.8 400.4L163.4 405.0L158.8 409.6L154.2 405.0ZM157.4 407.6L162.0 412.2L157.4 416.8L152.8 412.2ZM157.5 411.4L162.1 416.0L157.5 420.6L152.9 416.0ZM158.8 417.0L163.4 421.6L158.8 426.2L154.2 421.6ZM179.6 426.7L184.2 431.3L179.6 435.9L175.0 431.3ZM202.6 438.4L207.2 443.0L202.6 447.6L198.0 443.0ZM228.4 376.8L233.0 381.4L228.4 386.0L223.8 381.4ZM235.1 383.0L239.7 387.6L235.1 392.2L230.5 387.6ZM244.8 384.4L249.4 389.0L244.8 393.6L240.2 389.0ZM254.5 384.7L259.1 389.3L254.5 393.9L249.9 389.3ZM256.0 382.9L260.6 387.5L256.0 392.1L251.4 387.5ZM272.0 378.8L276.6 383.4L272.0 388.0L267.4 383.4ZM274.6 385.4L279.2 390.0L274.6 394.6L270.0 390.0ZM243.3 393.9L247.9 398.5L243.3 403.1L238.7 398.5ZM249.3 396.2L253.9 400.8L249.3 405.4L244.7 400.8ZM250.0 400.0L254.6 404.6L250.0 409.2L245.4 404.6ZM242.6 405.1L247.2 409.7L242.6 414.3L238.0 409.7ZM234.8 399.9L239.4 404.5L234.8 409.1L230.2 404.5ZM204.7 386.6L209.3 391.2L204.7 395.8L200.1 391.2ZM196.1 390.2L200.7 394.8L196.1 399.4L191.5 394.8ZM180.2 407.6L184.8 412.2L180.2 416.8L175.6 412.2ZM171.3 420.0L175.9 424.6L171.3 429.2L166.7 424.6ZM138.6 416.4L143.2 421.0L138.6 425.6L134.0 421.0ZM181.3 406.7L185.9 411.3L181.3 415.9L176.7 411.3ZM187.3 403.8L191.9 408.4L187.3 413.0L182.7 408.4ZM197.8 395.5L202.4 400.1L197.8 404.7L193.2 400.1ZM181.3 423.2L185.9 427.8L181.3 432.4L176.7 427.8ZM187.3 417.2L191.9 421.8L187.3 426.4L182.7 421.8ZM191.8 418.7L196.4 423.3L191.8 427.9L187.2 423.3ZM217.2 379.4L221.8 384.0L217.2 388.6L212.6 384.0ZM205.2 386.4L209.8 391.0L205.2 395.6L200.6 391.0ZM211.2 384.6L215.8 389.2L211.2 393.8L206.6 389.2ZM214.9 412.2L219.5 416.8L214.9 421.4L210.3 416.8ZM207.5 409.2L212.1 413.8L207.5 418.4L202.9 413.8ZM202.2 411.4L206.8 416.0L202.2 420.6L197.6 416.0ZM222.0 397.3L226.6 401.9L222.0 406.5L217.4 401.9ZM229.2 387.8L233.8 392.4L229.2 397.0L224.6 392.4ZM206.4 396.5L211.0 401.1L206.4 405.7L201.8 401.1ZM192.3 415.1L196.9 419.7L192.3 424.3L187.7 419.7ZM230.3 388.8L234.9 393.4L230.3 398.0L225.7 393.4ZM206.5 403.9L211.1 408.5L206.5 413.1L201.9 408.5ZM204.2 397.7L208.8 402.3L204.2 406.9L199.6 402.3ZM216.2 401.8L220.8 406.4L216.2 411.0L211.6 406.4ZM239.8 385.9L244.4 390.5L239.8 395.1L235.2 390.5ZM221.9 388.6L226.5 393.2L221.9 397.8L217.3 393.2ZM202.3 402.3L206.9 406.9L202.3 411.5L197.7 406.9ZM221.4 397.4L226.0 402.0L221.4 406.6L216.8 402.0ZM193.7 406.1L198.3 410.7L193.7 415.3L189.1 410.7ZM214.4 395.8L219.0 400.4L214.4 405.0L209.8 400.4ZM222.2 396.2L226.8 400.8L222.2 405.4L217.6 400.8ZM215.8 395.5L220.4 400.1L215.8 404.7L211.2 400.1ZM201.2 399.6L205.8 404.2L201.2 408.8L196.6 404.2ZM201.6 399.5L206.2 404.1L201.6 408.7L197.0 404.1ZM192.2 412.6L196.8 417.2L192.2 421.8L187.6 417.2ZM199.4 404.2L204.0 408.8L199.4 413.4L194.8 408.8ZM234.3 391.0L238.9 395.6L234.3 400.2L229.7 395.6ZM232.7 391.7L237.3 396.3L232.7 400.9L228.1 396.3ZM227.6 384.8L232.2 389.4L227.6 394.0L223.0 389.4ZM218.0 397.9L222.6 402.5L218.0 407.1L213.4 402.5ZM233.8 401.8L238.4 406.4L233.8 411.0L229.2 406.4ZM220.7 389.5L225.3 394.1L220.7 398.7L216.1 394.1ZM210.6 403.4L215.2 408.0L210.6 412.6L206.0 408.0ZM199.2 408.7L203.8 413.3L199.2 417.9L194.6 413.3ZM210.2 404.1L214.8 408.7L210.2 413.3L205.6 408.7ZM220.3 392.6L224.9 397.2L220.3 401.8L215.7 397.2ZM222.6 392.8L227.2 397.4L222.6 402.0L218.0 397.4ZM199.2 398.4L203.8 403.0L199.2 407.6L194.6 403.0ZM203.5 402.1L208.1 406.7L203.5 411.3L198.9 406.7ZM196.6 412.3L201.2 416.9L196.6 421.5L192.0 416.9ZM202.3 399.3L206.9 403.9L202.3 408.5L197.7 403.9ZM206.4 391.0L211.0 395.6L206.4 400.2L201.8 395.6ZM223.8 394.4L228.4 399.0L223.8 403.6L219.2 399.0ZM232.6 395.1L237.2 399.7L232.6 404.3L228.0 399.7ZM235.4 388.1L240.0 392.7L235.4 397.3L230.8 392.7ZM199.0 413.4L203.6 418.0L199.0 422.6L194.4 418.0ZM236.5 388.0L241.1 392.6L236.5 397.2L231.9 392.6ZM200.7 403.7L205.3 408.3L200.7 412.9L196.1 408.3ZM222.8 389.2L227.4 393.8L222.8 398.4L218.2 393.8ZM210.1 398.0L214.7 402.6L210.1 407.2L205.5 402.6ZM203.5 406.8L208.1 411.4L203.5 416.0L198.9 411.4ZM234.1 394.4L238.7 399.0L234.1 403.6L229.5 399.0ZM218.3 402.9L222.9 407.5L218.3 412.1L213.7 407.5ZM228.1 396.4L232.7 401.0L228.1 405.6L223.5 401.0ZM209.9 402.5L214.5 407.1L209.9 411.7L205.3 407.1ZM197.9 394.3L202.5 398.9L197.9 403.5L193.3 398.9ZM223.6 390.0L228.2 394.6L223.6 399.2L219.0 394.6ZM217.1 409.9L221.7 414.5L217.1 419.1L212.5 414.5ZM208.5 397.7L213.1 402.3L208.5 406.9L203.9 402.3ZM224.8 397.2L229.4 401.8L224.8 406.4L220.2 401.8ZM216.9 396.6L221.5 401.2L216.9 405.8L212.3 401.2ZM235.6 392.9L240.2 397.5L235.6 402.1L231.0 397.5ZM236.8 389.1L241.4 393.7L236.8 398.3L232.2 393.7ZM228.1 387.3L232.7 391.9L228.1 396.5L223.5 391.9ZM198.6 400.5L203.2 405.1L198.6 409.7L194.0 405.1ZM231.1 393.0L235.7 397.6L231.1 402.2L226.5 397.6ZM222.2 392.3L226.8 396.9L222.2 401.5L217.6 396.9ZM216.6 386.8L221.2 391.4L216.6 396.0L212.0 391.4ZM202.9 405.4L207.5 410.0L202.9 414.6L198.3 410.0ZM209.4 405.4L214.0 410.0L209.4 414.6L204.8 410.0ZM208.6 405.2L213.2 409.8L208.6 414.4L204.0 409.8ZM219.5 400.9L224.1 405.5L219.5 410.1L214.9 405.5ZM205.0 394.1L209.6 398.7L205.0 403.3L200.4 398.7ZM213.3 407.1L217.9 411.7L213.3 416.3L208.7 411.7ZM216.7 396.3L221.3 400.9L216.7 405.5L212.1 400.9ZM235.0 384.9L239.6 389.5L235.0 394.1L230.4 389.5ZM216.8 394.3L221.4 398.9L216.8 403.5L212.2 398.9ZM223.3 390.5L227.9 395.1L223.3 399.7L218.7 395.1ZM224.3 387.9L228.9 392.5L224.3 397.1L219.7 392.5ZM213.5 397.4L218.1 402.0L213.5 406.6L208.9 402.0ZM224.9 393.5L229.5 398.1L224.9 402.7L220.3 398.1ZM221.7 393.3L226.3 397.9L221.7 402.5L217.1 397.9ZM219.8 395.6L224.4 400.2L219.8 404.8L215.2 400.2ZM211.3 397.6L215.9 402.2L211.3 406.8L206.7 402.2ZM208.5 396.5L213.1 401.1L208.5 405.7L203.9 401.1ZM208.7 397.0L213.3 401.6L208.7 406.2L204.1 401.6ZM222.5 395.9L227.1 400.5L222.5 405.1L217.9 400.5ZM214.5 391.1L219.1 395.7L214.5 400.3L209.9 395.7ZM218.5 393.2L223.1 397.8L218.5 402.4L213.9 397.8ZM225.1 396.6L229.7 401.2L225.1 405.8L220.5 401.2ZM217.8 396.6L222.4 401.2L217.8 405.8L213.2 401.2ZM208.0 402.4L212.6 407.0L208.0 411.6L203.4 407.0ZM213.1 397.6L217.7 402.2L213.1 406.8L208.5 402.2ZM221.9 389.2L226.5 393.8L221.9 398.4L217.3 393.8ZM206.5 398.7L211.1 403.3L206.5 407.9L201.9 403.3ZM221.6 394.6L226.2 399.2L221.6 403.8L217.0 399.2ZM215.5 395.0L220.1 399.6L215.5 404.2L210.9 399.6ZM205.0 400.2L209.6 404.8L205.0 409.4L200.4 404.8ZM204.4 401.9L209.0 406.5L204.4 411.1L199.8 406.5ZM209.5 402.8L214.1 407.4L209.5 412.0L204.9 407.4ZM216.5 394.3L221.1 398.9L216.5 403.5L211.9 398.9ZM217.0 400.9L221.6 405.5L217.0 410.1L212.4 405.5ZM218.9 395.2L223.5 399.8L218.9 404.4L214.3 399.8ZM210.8 402.7L215.4 407.3L210.8 411.9L206.2 407.3ZM215.8 401.3L220.4 405.9L215.8 410.5L211.2 405.9ZM218.5 402.9L223.1 407.5L218.5 412.1L213.9 407.5Z"/><line x1="146.5" y1="431.1" x2="802.8" y2="164.0" stroke="#111" stroke-width="1.15" stroke-dasharray="6.6 6.92"/><g fill="#00ff2a"><circle cx="176.4" cy="421.3" r="6.6"/><circle cx="190.5" cy="415.3" r="6.6"/><circle cx="207.8" cy="403.6" r="6.6"/><circle cx="213" cy="400.2" r="6.6"/><circle cx="230.4" cy="397.5" r="6.6"/><circle cx="302.2" cy="366.6" r="6.6"/><circle cx="330.3" cy="357" r="6.6"/><circle cx="360.4" cy="342.6" r="6.6"/><circle cx="529.7" cy="274.4" r="6.6"/></g></g><g stroke="#000" stroke-width="1.1" fill="none"><path d="M141 15V489M809 15V489M141 15H809"/><path d="M141 489.3H809" stroke-width="1.3"/><path d="M146.3 489V479M146.3 15V25M172.6 489V484M172.6 15V20M198.9 489V484M198.9 15V20M225.2 489V484M225.2 15V20M251.5 489V484M251.5 15V20M277.8 489V479M277.8 15V25M304.1 489V484M304.1 15V20M330.4 489V484M330.4 15V20M356.7 489V484M356.7 15V20M383.0 489V484M383.0 15V20M409.3 489V479M409.3 15V25M435.6 489V484M435.6 15V20M461.9 489V484M461.9 15V20M488.2 489V484M488.2 15V20M514.5 489V484M514.5 15V20M540.8 489V479M540.8 15V25M567.1 489V484M567.1 15V20M593.4 489V484M593.4 15V20M619.7 489V484M619.7 15V20M646.0 489V484M646.0 15V20M672.3 489V479M672.3 15V25M698.6 489V484M698.6 15V20M724.9 489V484M724.9 15V20M751.2 489V484M751.2 15V20M777.5 489V484M777.5 15V20M803.8 489V479M803.8 15V25M141 15.2H147.5M809 15.2H802.5M141 58.3H154M809 58.3H796M141 101.4H147.5M809 101.4H802.5M141 144.5H147.5M809 144.5H802.5M141 187.6H147.5M809 187.6H802.5M141 230.7H147.5M809 230.7H802.5M141 273.8H154M809 273.8H796M141 317.0H147.5M809 317.0H802.5M141 360.1H147.5M809 360.1H802.5M141 403.2H147.5M809 403.2H802.5M141 446.3H147.5M809 446.3H802.5M141 489.4H154M809 489.4H796"/></g><g font-family="Liberation Sans, Arial, sans-serif" font-weight="bold" font-size="30" fill="#000"><text transform="translate(146.8,527.3) scale(1,1.065)" text-anchor="middle">-0.5</text><text transform="translate(278.3,527.3) scale(1,1.065)" text-anchor="middle">0.0</text><text transform="translate(409.8,527.3) scale(1,1.065)" text-anchor="middle">0.5</text><text transform="translate(541.3,527.3) scale(1,1.065)" text-anchor="middle">1.0</text><text transform="translate(672.8,527.3) scale(1,1.065)" text-anchor="middle">1.5</text><text transform="translate(804.3,527.3) scale(1,1.065)" text-anchor="middle">2.0</text><text transform="translate(132.8,68.6) scale(1,1.065)" text-anchor="end">10</text><text transform="translate(132.8,284) scale(1,1.065)" text-anchor="end">15</text><text transform="translate(132.8,489.2) scale(1,1.065)" text-anchor="end">20</text><text x="475" y="559" text-anchor="middle">log(P)</text><text transform="translate(76.2,267.5) rotate(-90) scale(1,1.05)">K<tspan font-size="17.5" dy="7" dx="-0.5">s</tspan></text></g><rect x="172.8" y="36.5" width="98.5" height="112" fill="#fff" stroke="#000" stroke-width="1.2"/><path d="M189.5 55.2H202.7M196.1 48.6V61.8" stroke="#ff2200" stroke-width="1.2" fill="none"/><path d="M189.7 80.3H202.7M196.2 73.8V86.8M189.7 73.8L202.7 86.8M189.7 86.8L202.7 73.8" stroke="#530085" stroke-width="1.15" fill="none"/><circle cx="196.1" cy="105.2" r="6.5" fill="#3000e0"/><path d="M196.1 123.1L202.8 129.8L196.1 136.5L189.4 129.8Z" stroke="#ff00ff" stroke-width="1.2" fill="none"/><g font-family="Liberation Sans, Arial, sans-serif" font-weight="bold" font-size="25" fill="#000"><text transform="translate(212.3,61.3) scale(1,1.04)">FU</text><text transform="translate(212.3,86.3) scale(1,1.04)">FO</text><text transform="translate(212.3,111.4) scale(1,1.04)">T2C</text><text transform="translate(212.3,136.3) scale(1,1.04)">RRL</text></g></svg>
<div class="cap"><b>Figure 9.</b> Comparison of <i>K<sub style="font-size:16px;vertical-align:-5px;line-height:0">s</sub></i>-band P&#8211;L relation with Classical Cepheids from LMCNISS data and RR Lyraes in the LMC. The green circles represent the calibrator T2Cs and RRLs.</div>
</body></html>
